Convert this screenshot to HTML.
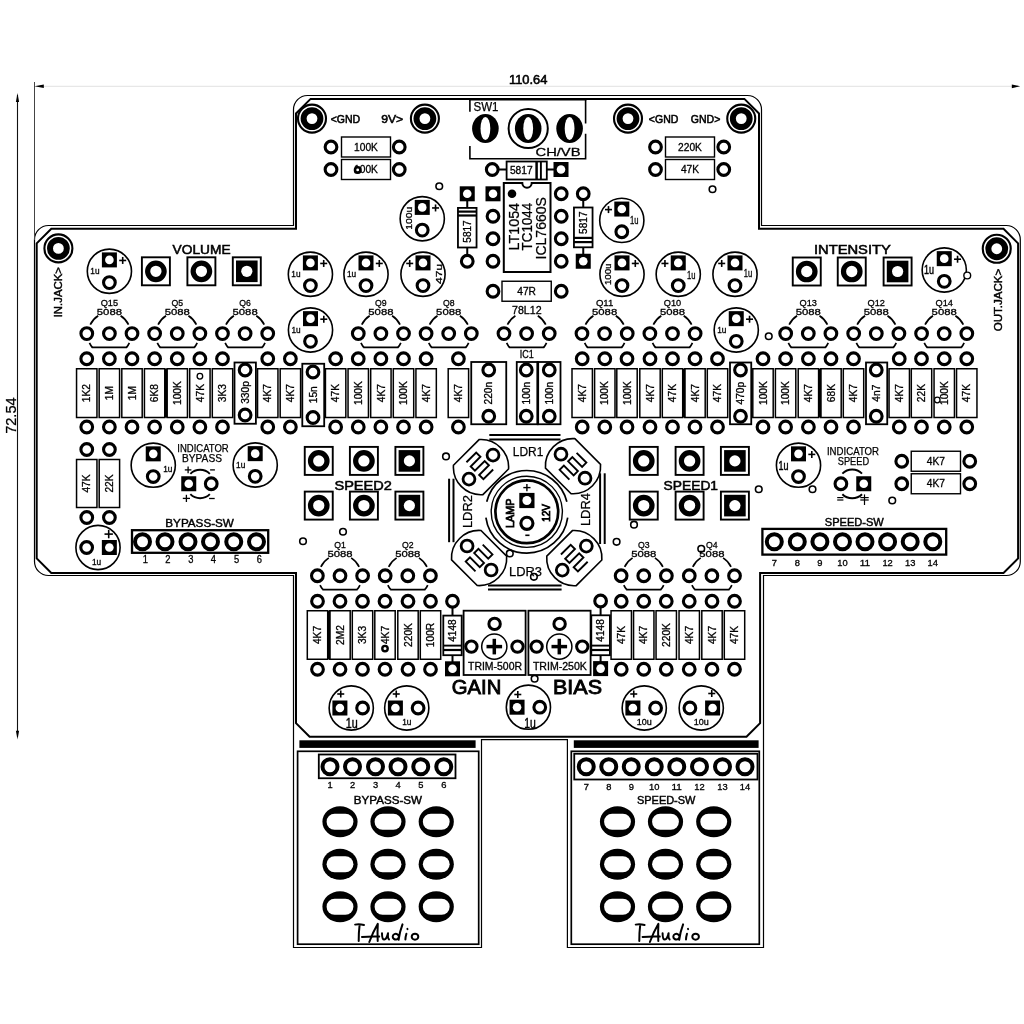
<!DOCTYPE html>
<html><head><meta charset="utf-8"><title>PCB</title>
<style>html,body{margin:0;padding:0;background:#fff}svg{display:block;will-change:transform}text{font-family:"Liberation Sans", sans-serif;fill:#000}</style>
</head><body>
<svg width="1024" height="1024" viewBox="0 0 1024 1024">
<rect width="1024" height="1024" fill="#fff"/>
<path d="M307.5 95.5 H747.5 A14 14 0 0 1 761.5 109.5 V225.5 H1006.3 A14 14 0 0 1 1020.3 239.5 V561.5 A14 14 0 0 1 1006.3 575.5 H763.5 V947.5 H567.4 V739.6 H481.5 V947.5 H293.5 V575.5 H48.5 A14 14 0 0 1 34.5 561.5 V239.5 A14 14 0 0 1 48.5 225.5 H293.5 V109.5 A14 14 0 0 1 307.5 95.5 Z" fill="none" stroke="#000" stroke-width="1.2"/>
<path d="M310.6 98.9 H744.4 L759 113.5 V228.8 H1003.5 L1018.1 243.4 V558.4 L1003.5 573 H760.1 V723.1999999999999 L746.5 736.8 H309.6 L296 723.1999999999999 V573 H51.300000000000004 L36.7 558.4 V243.4 L51.300000000000004 228.8 H296 V113.5 Z" fill="none" stroke="#000" stroke-width="2"/>
<line x1="43.00" y1="86.30" x2="1012.00" y2="86.30" stroke="#e2e2e2" stroke-width="1" stroke-linecap="butt"/>
<line x1="34.50" y1="82.00" x2="34.50" y2="240.00" stroke="#444" stroke-width="1" stroke-linecap="butt"/>
<path d="M34.4 86.3 L43.8 84.5 L43.8 88.1Z" fill="#000"/>
<path d="M1020.2 86.3 L1011.8 84.4 L1011.8 88.2Z" fill="#000"/>
<line x1="17.50" y1="95.00" x2="17.50" y2="737.00" stroke="#111" stroke-width="1.1" stroke-linecap="butt"/>
<path d="M17.5 93 L15.9 101.9 L19.1 101.9Z" fill="#000"/>
<path d="M17.5 739.6 L15.9 730.7 L19.1 730.7Z" fill="#000"/>
<text x="528.20" y="83.80" font-size="12.6" text-anchor="middle" textLength="38.50" lengthAdjust="spacingAndGlyphs" stroke="#000" stroke-width="0.55">110.64</text>
<text x="16.40" y="415.60" font-size="14.5" text-anchor="middle" textLength="36.50" lengthAdjust="spacingAndGlyphs" stroke="#000" stroke-width="0.25" transform="rotate(-90 16.40 415.60)">72.54</text>
<circle cx="312.00" cy="118.60" r="14" fill="#fff" stroke="#000" stroke-width="2.1"/>
<circle cx="312.00" cy="118.60" r="8.4" fill="#fff" stroke="#000" stroke-width="6"/>
<circle cx="424.90" cy="118.60" r="14" fill="#fff" stroke="#000" stroke-width="2.1"/>
<circle cx="424.90" cy="118.60" r="8.4" fill="#fff" stroke="#000" stroke-width="6"/>
<circle cx="628.00" cy="118.60" r="14" fill="#fff" stroke="#000" stroke-width="2.1"/>
<circle cx="628.00" cy="118.60" r="8.4" fill="#fff" stroke="#000" stroke-width="6"/>
<circle cx="741.25" cy="118.60" r="14" fill="#fff" stroke="#000" stroke-width="2.1"/>
<circle cx="741.25" cy="118.60" r="8.4" fill="#fff" stroke="#000" stroke-width="6"/>
<circle cx="58.40" cy="248.40" r="14" fill="#fff" stroke="#000" stroke-width="2.1"/>
<circle cx="58.40" cy="248.40" r="8.4" fill="#fff" stroke="#000" stroke-width="6"/>
<circle cx="996.75" cy="248.75" r="14" fill="#fff" stroke="#000" stroke-width="2.1"/>
<circle cx="996.75" cy="248.75" r="8.4" fill="#fff" stroke="#000" stroke-width="6"/>
<text x="345.40" y="122.80" font-size="11.2" text-anchor="middle" textLength="29.50" lengthAdjust="spacingAndGlyphs" stroke="#000" stroke-width="0.55">&lt;GND</text>
<text x="392.20" y="122.80" font-size="11.2" text-anchor="middle" textLength="22.00" lengthAdjust="spacingAndGlyphs" stroke="#000" stroke-width="0.55">9V&gt;</text>
<text x="663.60" y="122.80" font-size="11.2" text-anchor="middle" textLength="29.50" lengthAdjust="spacingAndGlyphs" stroke="#000" stroke-width="0.55">&lt;GND</text>
<text x="705.60" y="122.80" font-size="11.2" text-anchor="middle" textLength="29.50" lengthAdjust="spacingAndGlyphs" stroke="#000" stroke-width="0.55">GND&gt;</text>
<rect x="341.50" y="137.00" width="49.00" height="20.00" fill="#fff" stroke="#000" stroke-width="1.4"/>
<text x="366.00" y="150.70" font-size="10.2" text-anchor="middle" stroke="#000" stroke-width="0.3">100K</text>
<circle cx="331.00" cy="147.00" r="5.85" fill="#fff" stroke="#000" stroke-width="3.10"/>
<circle cx="399.25" cy="147.00" r="5.85" fill="#fff" stroke="#000" stroke-width="3.10"/>
<rect x="341.50" y="159.50" width="49.00" height="20.00" fill="#fff" stroke="#000" stroke-width="1.4"/>
<text x="366.00" y="173.20" font-size="10.2" text-anchor="middle" stroke="#000" stroke-width="0.3">100K</text>
<circle cx="331.00" cy="169.50" r="5.85" fill="#fff" stroke="#000" stroke-width="3.10"/>
<circle cx="399.25" cy="169.50" r="5.85" fill="#fff" stroke="#000" stroke-width="3.10"/>
<circle cx="357.70" cy="169.90" r="2.70" fill="#fff" stroke="#000" stroke-width="2.6"/>
<rect x="665.50" y="137.00" width="49.00" height="20.00" fill="#fff" stroke="#000" stroke-width="1.4"/>
<text x="690.00" y="150.70" font-size="10.2" text-anchor="middle" stroke="#000" stroke-width="0.3">220K</text>
<circle cx="655.50" cy="147.00" r="5.85" fill="#fff" stroke="#000" stroke-width="3.10"/>
<circle cx="723.75" cy="147.00" r="5.85" fill="#fff" stroke="#000" stroke-width="3.10"/>
<rect x="665.50" y="159.50" width="49.00" height="20.00" fill="#fff" stroke="#000" stroke-width="1.4"/>
<text x="690.00" y="173.20" font-size="10.2" text-anchor="middle" stroke="#000" stroke-width="0.3">47K</text>
<circle cx="655.50" cy="169.50" r="5.85" fill="#fff" stroke="#000" stroke-width="3.10"/>
<circle cx="723.75" cy="169.50" r="5.85" fill="#fff" stroke="#000" stroke-width="3.10"/>
<circle cx="439.25" cy="186.25" r="3.30" fill="#fff" stroke="#000" stroke-width="1.6"/>
<circle cx="712.50" cy="189.25" r="3.30" fill="#fff" stroke="#000" stroke-width="1.6"/>
<path d="M469.9 98.6 V111.8 M469.9 146 V158.7 H585.6 V133.7 M585.6 123.5 V98.6" fill="none" stroke="#000" stroke-width="1.6"/>
<line x1="469.10" y1="99.30" x2="586.40" y2="99.30" stroke="#000" stroke-width="2.6" stroke-linecap="butt"/>
<ellipse cx="485.4" cy="128.5" rx="13.3" ry="14.6" fill="#000"/>
<ellipse cx="485.4" cy="128.5" rx="4.9" ry="11.6" fill="#fff"/>
<ellipse cx="528.2" cy="128.5" rx="13.3" ry="14.6" fill="#000"/>
<ellipse cx="528.2" cy="128.5" rx="4.9" ry="11.6" fill="#fff"/>
<ellipse cx="569.6" cy="128.5" rx="13.3" ry="14.6" fill="#000"/>
<ellipse cx="569.6" cy="128.5" rx="4.9" ry="11.6" fill="#fff"/>
<circle cx="528.2" cy="128.5" r="19.6" fill="none" stroke="#000" stroke-width="2"/>
<text x="473.50" y="111.00" font-size="12.8" text-anchor="start" textLength="25.00" lengthAdjust="spacingAndGlyphs" stroke="#000" stroke-width="0.25">SW1</text>
<text x="535.50" y="155.80" font-size="11.4" text-anchor="start" textLength="45.00" lengthAdjust="spacingAndGlyphs" stroke="#000" stroke-width="0.3">CH/VB</text>
<line x1="492.25" y1="169.50" x2="561.00" y2="169.50" stroke="#000" stroke-width="2" stroke-linecap="butt"/>
<rect x="506.60" y="161.50" width="40.20" height="18.00" fill="#fff" stroke="#000" stroke-width="1.8"/>
<line x1="536.60" y1="161.50" x2="536.60" y2="179.50" stroke="#000" stroke-width="2.5" stroke-linecap="butt"/>
<line x1="540.90" y1="161.50" x2="540.90" y2="179.50" stroke="#000" stroke-width="1.9" stroke-linecap="butt"/>
<text x="521.30" y="174.10" font-size="10" text-anchor="middle" textLength="22.80" lengthAdjust="spacingAndGlyphs" stroke="#000" stroke-width="0.3">5817</text>
<circle cx="492.25" cy="169.50" r="5.85" fill="#fff" stroke="#000" stroke-width="3.10"/>
<rect x="553.50" y="162.00" width="15.00" height="15.00" fill="#000"/>
<circle cx="561.00" cy="169.50" r="4.30" fill="#fff"/>
<line x1="467.25" y1="261.25" x2="467.25" y2="193.80" stroke="#000" stroke-width="2" stroke-linecap="butt"/>
<rect x="457.95" y="207.90" width="18.60" height="39.60" fill="#fff" stroke="#000" stroke-width="1.8"/>
<line x1="457.95" y1="211.60" x2="476.55" y2="211.60" stroke="#000" stroke-width="2.2" stroke-linecap="butt"/>
<line x1="457.95" y1="215.50" x2="476.55" y2="215.50" stroke="#000" stroke-width="2.2" stroke-linecap="butt"/>
<text x="470.85" y="231.50" font-size="10" text-anchor="middle" textLength="22.40" lengthAdjust="spacingAndGlyphs" stroke="#000" stroke-width="0.3" transform="rotate(-90 470.85 231.50)">5817</text>
<circle cx="467.25" cy="261.25" r="5.85" fill="#fff" stroke="#000" stroke-width="3.10"/>
<rect x="459.75" y="186.30" width="15.00" height="15.00" fill="#000"/>
<circle cx="467.25" cy="193.80" r="4.30" fill="#fff"/>
<line x1="583.25" y1="193.75" x2="583.25" y2="261.25" stroke="#000" stroke-width="2" stroke-linecap="butt"/>
<rect x="573.95" y="207.50" width="18.60" height="39.80" fill="#fff" stroke="#000" stroke-width="1.8"/>
<line x1="573.95" y1="237.90" x2="592.55" y2="237.90" stroke="#000" stroke-width="2.2" stroke-linecap="butt"/>
<line x1="573.95" y1="242.10" x2="592.55" y2="242.10" stroke="#000" stroke-width="2.2" stroke-linecap="butt"/>
<text x="586.85" y="222.70" font-size="10" text-anchor="middle" textLength="22.40" lengthAdjust="spacingAndGlyphs" stroke="#000" stroke-width="0.3" transform="rotate(-90 586.85 222.70)">5817</text>
<circle cx="583.25" cy="193.75" r="5.85" fill="#fff" stroke="#000" stroke-width="3.10"/>
<rect x="575.75" y="253.75" width="15.00" height="15.00" fill="#000"/>
<circle cx="583.25" cy="261.25" r="4.30" fill="#fff"/>
<path d="M503.8 183 H522.3 A4.7 4.7 0 0 0 531.7 183 H550.5 V272 H503.8Z" fill="#fff" stroke="#000" stroke-width="2"/>
<circle cx="512" cy="193.8" r="4.3" fill="#000"/>
<rect x="485.50" y="186.30" width="15.00" height="15.00" fill="#000"/>
<circle cx="493.00" cy="193.80" r="4.30" fill="#fff"/>
<circle cx="493.00" cy="216.25" r="5.85" fill="#fff" stroke="#000" stroke-width="3.10"/>
<circle cx="493.00" cy="238.75" r="5.85" fill="#fff" stroke="#000" stroke-width="3.10"/>
<circle cx="493.00" cy="261.25" r="5.85" fill="#fff" stroke="#000" stroke-width="3.10"/>
<circle cx="561.25" cy="193.75" r="5.85" fill="#fff" stroke="#000" stroke-width="3.10"/>
<circle cx="561.25" cy="216.25" r="5.85" fill="#fff" stroke="#000" stroke-width="3.10"/>
<circle cx="561.25" cy="238.75" r="5.85" fill="#fff" stroke="#000" stroke-width="3.10"/>
<circle cx="561.25" cy="261.25" r="5.85" fill="#fff" stroke="#000" stroke-width="3.10"/>
<text x="519.20" y="250.40" font-size="14.6" text-anchor="start" textLength="47.50" lengthAdjust="spacingAndGlyphs" stroke="#000" stroke-width="0.25" transform="rotate(-90 519.20 250.40)">LT1054</text>
<text x="531.80" y="250.40" font-size="14.6" text-anchor="start" textLength="47.50" lengthAdjust="spacingAndGlyphs" stroke="#000" stroke-width="0.25" transform="rotate(-90 531.80 250.40)">TC1044</text>
<text x="545.80" y="259.50" font-size="14.6" text-anchor="start" textLength="62.50" lengthAdjust="spacingAndGlyphs" stroke="#000" stroke-width="0.25" transform="rotate(-90 545.80 259.50)">ICL7660S</text>
<rect x="502.00" y="281.25" width="49.25" height="20.00" fill="#fff" stroke="#000" stroke-width="1.4"/>
<text x="526.62" y="294.95" font-size="10.2" text-anchor="middle" stroke="#000" stroke-width="0.3">47R</text>
<circle cx="493.00" cy="291.25" r="5.85" fill="#fff" stroke="#000" stroke-width="3.10"/>
<circle cx="561.25" cy="291.25" r="5.85" fill="#fff" stroke="#000" stroke-width="3.10"/>
<text x="526.80" y="313.80" font-size="10.2" text-anchor="middle" textLength="29.50" lengthAdjust="spacingAndGlyphs" stroke="#000" stroke-width="0.3">78L12</text>
<text x="526.80" y="357.80" font-size="10.2" text-anchor="middle" textLength="14.00" lengthAdjust="spacingAndGlyphs" stroke="#000" stroke-width="0.3">IC1</text>
<circle cx="109.40" cy="271.25" r="22.10" fill="#fff" stroke="#000" stroke-width="1.6"/>
<rect x="101.90" y="252.40" width="15.00" height="15.00" fill="#000"/>
<circle cx="109.40" cy="259.90" r="4.30" fill="#fff"/>
<circle cx="109.40" cy="282.60" r="5.85" fill="#fff" stroke="#000" stroke-width="3.10"/>
<line x1="119.20" y1="260.45" x2="126.20" y2="260.45" stroke="#000" stroke-width="1.6" stroke-linecap="butt"/>
<line x1="122.70" y1="256.95" x2="122.70" y2="263.95" stroke="#000" stroke-width="1.6" stroke-linecap="butt"/>
<text x="94.90" y="274.45" font-size="8.6" text-anchor="middle" textLength="9.20" lengthAdjust="spacingAndGlyphs" stroke="#000" stroke-width="0.3">1u</text>
<circle cx="310.40" cy="274.25" r="22.10" fill="#fff" stroke="#000" stroke-width="1.6"/>
<rect x="302.90" y="255.40" width="15.00" height="15.00" fill="#000"/>
<circle cx="310.40" cy="262.90" r="4.30" fill="#fff"/>
<circle cx="310.40" cy="285.60" r="5.85" fill="#fff" stroke="#000" stroke-width="3.10"/>
<line x1="320.20" y1="263.45" x2="327.20" y2="263.45" stroke="#000" stroke-width="1.6" stroke-linecap="butt"/>
<line x1="323.70" y1="259.95" x2="323.70" y2="266.95" stroke="#000" stroke-width="1.6" stroke-linecap="butt"/>
<text x="295.90" y="277.45" font-size="8.6" text-anchor="middle" textLength="9.20" lengthAdjust="spacingAndGlyphs" stroke="#000" stroke-width="0.3">1u</text>
<circle cx="366.00" cy="274.25" r="22.10" fill="#fff" stroke="#000" stroke-width="1.6"/>
<rect x="358.50" y="255.40" width="15.00" height="15.00" fill="#000"/>
<circle cx="366.00" cy="262.90" r="4.30" fill="#fff"/>
<circle cx="366.00" cy="285.60" r="5.85" fill="#fff" stroke="#000" stroke-width="3.10"/>
<line x1="375.80" y1="263.45" x2="382.80" y2="263.45" stroke="#000" stroke-width="1.6" stroke-linecap="butt"/>
<line x1="379.30" y1="259.95" x2="379.30" y2="266.95" stroke="#000" stroke-width="1.6" stroke-linecap="butt"/>
<text x="351.50" y="277.45" font-size="8.6" text-anchor="middle" textLength="9.20" lengthAdjust="spacingAndGlyphs" stroke="#000" stroke-width="0.3">1u</text>
<circle cx="423.00" cy="274.25" r="22.10" fill="#fff" stroke="#000" stroke-width="1.6"/>
<rect x="415.50" y="255.40" width="15.00" height="15.00" fill="#000"/>
<circle cx="423.00" cy="262.90" r="4.30" fill="#fff"/>
<circle cx="423.00" cy="285.60" r="5.85" fill="#fff" stroke="#000" stroke-width="3.10"/>
<line x1="406.20" y1="263.45" x2="413.20" y2="263.45" stroke="#000" stroke-width="1.6" stroke-linecap="butt"/>
<line x1="409.70" y1="259.95" x2="409.70" y2="266.95" stroke="#000" stroke-width="1.6" stroke-linecap="butt"/>
<text x="442.00" y="273.95" font-size="9.6" text-anchor="middle" textLength="20.00" lengthAdjust="spacingAndGlyphs" stroke="#000" stroke-width="0.3" transform="rotate(-90 442.00 273.95)">47u</text>
<circle cx="422.25" cy="218.75" r="22.10" fill="#fff" stroke="#000" stroke-width="1.6"/>
<rect x="414.75" y="199.90" width="15.00" height="15.00" fill="#000"/>
<circle cx="422.25" cy="207.40" r="4.30" fill="#fff"/>
<circle cx="422.25" cy="230.10" r="5.85" fill="#fff" stroke="#000" stroke-width="3.10"/>
<line x1="432.05" y1="207.95" x2="439.05" y2="207.95" stroke="#000" stroke-width="1.6" stroke-linecap="butt"/>
<line x1="435.55" y1="204.45" x2="435.55" y2="211.45" stroke="#000" stroke-width="1.6" stroke-linecap="butt"/>
<text x="412.05" y="218.25" font-size="9.6" text-anchor="middle" textLength="23.00" lengthAdjust="spacingAndGlyphs" stroke="#000" stroke-width="0.3" transform="rotate(-90 412.05 218.25)">100u</text>
<circle cx="621.80" cy="220.40" r="22.10" fill="#fff" stroke="#000" stroke-width="1.6"/>
<rect x="614.30" y="201.55" width="15.00" height="15.00" fill="#000"/>
<circle cx="621.80" cy="209.05" r="4.30" fill="#fff"/>
<circle cx="621.80" cy="231.75" r="5.85" fill="#fff" stroke="#000" stroke-width="3.10"/>
<line x1="605.00" y1="209.60" x2="612.00" y2="209.60" stroke="#000" stroke-width="1.6" stroke-linecap="butt"/>
<line x1="608.50" y1="206.10" x2="608.50" y2="213.10" stroke="#000" stroke-width="1.6" stroke-linecap="butt"/>
<text x="634.20" y="224.00" font-size="10.5" text-anchor="middle" textLength="8.50" lengthAdjust="spacingAndGlyphs" stroke="#000" stroke-width="0.3">1u</text>
<circle cx="622.00" cy="274.25" r="22.10" fill="#fff" stroke="#000" stroke-width="1.6"/>
<rect x="614.50" y="255.40" width="15.00" height="15.00" fill="#000"/>
<circle cx="622.00" cy="262.90" r="4.30" fill="#fff"/>
<circle cx="622.00" cy="285.60" r="5.85" fill="#fff" stroke="#000" stroke-width="3.10"/>
<line x1="631.80" y1="263.45" x2="638.80" y2="263.45" stroke="#000" stroke-width="1.6" stroke-linecap="butt"/>
<line x1="635.30" y1="259.95" x2="635.30" y2="266.95" stroke="#000" stroke-width="1.6" stroke-linecap="butt"/>
<text x="611.00" y="274.25" font-size="9.6" text-anchor="middle" textLength="21.50" lengthAdjust="spacingAndGlyphs" stroke="#000" stroke-width="0.3" transform="rotate(-90 611.00 274.25)">100u</text>
<circle cx="678.25" cy="274.25" r="22.10" fill="#fff" stroke="#000" stroke-width="1.6"/>
<rect x="670.75" y="255.40" width="15.00" height="15.00" fill="#000"/>
<circle cx="678.25" cy="262.90" r="4.30" fill="#fff"/>
<circle cx="678.25" cy="285.60" r="5.85" fill="#fff" stroke="#000" stroke-width="3.10"/>
<line x1="661.45" y1="263.45" x2="668.45" y2="263.45" stroke="#000" stroke-width="1.6" stroke-linecap="butt"/>
<line x1="664.95" y1="259.95" x2="664.95" y2="266.95" stroke="#000" stroke-width="1.6" stroke-linecap="butt"/>
<text x="691.15" y="278.65" font-size="10.5" text-anchor="middle" textLength="8.50" lengthAdjust="spacingAndGlyphs" stroke="#000" stroke-width="0.3">1u</text>
<circle cx="735.00" cy="274.25" r="22.10" fill="#fff" stroke="#000" stroke-width="1.6"/>
<rect x="727.50" y="255.40" width="15.00" height="15.00" fill="#000"/>
<circle cx="735.00" cy="262.90" r="4.30" fill="#fff"/>
<circle cx="735.00" cy="285.60" r="5.85" fill="#fff" stroke="#000" stroke-width="3.10"/>
<line x1="718.20" y1="263.45" x2="725.20" y2="263.45" stroke="#000" stroke-width="1.6" stroke-linecap="butt"/>
<line x1="721.70" y1="259.95" x2="721.70" y2="266.95" stroke="#000" stroke-width="1.6" stroke-linecap="butt"/>
<text x="748.00" y="277.45" font-size="10.5" text-anchor="middle" textLength="8.50" lengthAdjust="spacingAndGlyphs" stroke="#000" stroke-width="0.3">1u</text>
<circle cx="944.25" cy="270.00" r="22.10" fill="#fff" stroke="#000" stroke-width="1.6"/>
<rect x="936.75" y="251.15" width="15.00" height="15.00" fill="#000"/>
<circle cx="944.25" cy="258.65" r="4.30" fill="#fff"/>
<circle cx="944.25" cy="281.35" r="5.85" fill="#fff" stroke="#000" stroke-width="3.10"/>
<line x1="954.05" y1="259.20" x2="961.05" y2="259.20" stroke="#000" stroke-width="1.6" stroke-linecap="butt"/>
<line x1="957.55" y1="255.70" x2="957.55" y2="262.70" stroke="#000" stroke-width="1.6" stroke-linecap="butt"/>
<text x="928.95" y="274.40" font-size="12" text-anchor="middle" textLength="10.00" lengthAdjust="spacingAndGlyphs" stroke="#000" stroke-width="0.45">1u</text>
<circle cx="967.25" cy="275.50" r="3.40" fill="#fff" stroke="#000" stroke-width="1.4"/>
<circle cx="310.50" cy="330.00" r="22.10" fill="#fff" stroke="#000" stroke-width="1.6"/>
<rect x="303.00" y="311.15" width="15.00" height="15.00" fill="#000"/>
<circle cx="310.50" cy="318.65" r="4.30" fill="#fff"/>
<circle cx="310.50" cy="341.35" r="5.85" fill="#fff" stroke="#000" stroke-width="3.10"/>
<line x1="320.30" y1="319.20" x2="327.30" y2="319.20" stroke="#000" stroke-width="1.6" stroke-linecap="butt"/>
<line x1="323.80" y1="315.70" x2="323.80" y2="322.70" stroke="#000" stroke-width="1.6" stroke-linecap="butt"/>
<text x="296.00" y="333.20" font-size="8.6" text-anchor="middle" textLength="9.20" lengthAdjust="spacingAndGlyphs" stroke="#000" stroke-width="0.3">1u</text>
<circle cx="736.25" cy="330.00" r="22.10" fill="#fff" stroke="#000" stroke-width="1.6"/>
<rect x="728.75" y="311.15" width="15.00" height="15.00" fill="#000"/>
<circle cx="736.25" cy="318.65" r="4.30" fill="#fff"/>
<circle cx="736.25" cy="341.35" r="5.85" fill="#fff" stroke="#000" stroke-width="3.10"/>
<line x1="746.05" y1="319.20" x2="753.05" y2="319.20" stroke="#000" stroke-width="1.6" stroke-linecap="butt"/>
<line x1="749.55" y1="315.70" x2="749.55" y2="322.70" stroke="#000" stroke-width="1.6" stroke-linecap="butt"/>
<text x="721.75" y="333.20" font-size="8.6" text-anchor="middle" textLength="9.20" lengthAdjust="spacingAndGlyphs" stroke="#000" stroke-width="0.3">1u</text>
<text x="201.60" y="253.50" font-size="13.6" text-anchor="middle" textLength="58.00" lengthAdjust="spacingAndGlyphs" stroke="#000" stroke-width="0.55">VOLUME</text>
<rect x="141.90" y="257.30" width="28.00" height="28.00" fill="#fff" stroke="#000" stroke-width="1.9"/>
<circle cx="155.90" cy="271.30" r="8.25" fill="#fff" stroke="#000" stroke-width="5.2"/>
<rect x="187.40" y="257.30" width="28.00" height="28.00" fill="#fff" stroke="#000" stroke-width="1.9"/>
<circle cx="201.40" cy="271.30" r="8.25" fill="#fff" stroke="#000" stroke-width="5.2"/>
<rect x="232.80" y="257.30" width="28.00" height="28.00" fill="#fff" stroke="#000" stroke-width="1.9"/>
<rect x="236.00" y="260.50" width="21.6" height="21.6" fill="#000"/>
<circle cx="246.80" cy="271.30" r="5.6" fill="#fff"/>
<text x="852.40" y="253.70" font-size="13.6" text-anchor="middle" textLength="77.00" lengthAdjust="spacingAndGlyphs" stroke="#000" stroke-width="0.55">INTENSITY</text>
<rect x="792.75" y="257.50" width="28.00" height="28.00" fill="#fff" stroke="#000" stroke-width="1.9"/>
<circle cx="806.75" cy="271.50" r="8.25" fill="#fff" stroke="#000" stroke-width="5.2"/>
<rect x="837.75" y="257.50" width="28.00" height="28.00" fill="#fff" stroke="#000" stroke-width="1.9"/>
<circle cx="851.75" cy="271.50" r="8.25" fill="#fff" stroke="#000" stroke-width="5.2"/>
<rect x="883.60" y="257.50" width="28.00" height="28.00" fill="#fff" stroke="#000" stroke-width="1.9"/>
<rect x="886.80" y="260.70" width="21.6" height="21.6" fill="#000"/>
<circle cx="897.60" cy="271.50" r="5.6" fill="#fff"/>
<text x="363.20" y="489.60" font-size="13.6" text-anchor="middle" textLength="57.50" lengthAdjust="spacingAndGlyphs" stroke="#000" stroke-width="0.55">SPEED2</text>
<text x="690.80" y="489.60" font-size="13.6" text-anchor="middle" textLength="54.50" lengthAdjust="spacingAndGlyphs" stroke="#000" stroke-width="0.55">SPEED1</text>
<rect x="304.75" y="446.90" width="28.00" height="28.00" fill="#fff" stroke="#000" stroke-width="1.9"/>
<circle cx="318.75" cy="460.90" r="8.25" fill="#fff" stroke="#000" stroke-width="5.2"/>
<rect x="349.90" y="446.90" width="28.00" height="28.00" fill="#fff" stroke="#000" stroke-width="1.9"/>
<circle cx="363.90" cy="460.90" r="8.25" fill="#fff" stroke="#000" stroke-width="5.2"/>
<rect x="395.40" y="446.90" width="28.00" height="28.00" fill="#fff" stroke="#000" stroke-width="1.9"/>
<rect x="398.60" y="450.10" width="21.6" height="21.6" fill="#000"/>
<circle cx="409.40" cy="460.90" r="5.6" fill="#fff"/>
<rect x="629.75" y="446.90" width="28.00" height="28.00" fill="#fff" stroke="#000" stroke-width="1.9"/>
<circle cx="643.75" cy="460.90" r="8.25" fill="#fff" stroke="#000" stroke-width="5.2"/>
<rect x="675.60" y="446.90" width="28.00" height="28.00" fill="#fff" stroke="#000" stroke-width="1.9"/>
<circle cx="689.60" cy="460.90" r="8.25" fill="#fff" stroke="#000" stroke-width="5.2"/>
<rect x="720.90" y="446.90" width="28.00" height="28.00" fill="#fff" stroke="#000" stroke-width="1.9"/>
<rect x="724.10" y="450.10" width="21.6" height="21.6" fill="#000"/>
<circle cx="734.90" cy="460.90" r="5.6" fill="#fff"/>
<rect x="304.75" y="491.60" width="28.00" height="28.00" fill="#fff" stroke="#000" stroke-width="1.9"/>
<circle cx="318.75" cy="505.60" r="8.25" fill="#fff" stroke="#000" stroke-width="5.2"/>
<rect x="349.90" y="491.60" width="28.00" height="28.00" fill="#fff" stroke="#000" stroke-width="1.9"/>
<circle cx="363.90" cy="505.60" r="8.25" fill="#fff" stroke="#000" stroke-width="5.2"/>
<rect x="395.40" y="491.60" width="28.00" height="28.00" fill="#fff" stroke="#000" stroke-width="1.9"/>
<rect x="398.60" y="494.80" width="21.6" height="21.6" fill="#000"/>
<circle cx="409.40" cy="505.60" r="5.6" fill="#fff"/>
<rect x="629.75" y="491.60" width="28.00" height="28.00" fill="#fff" stroke="#000" stroke-width="1.9"/>
<circle cx="643.75" cy="505.60" r="8.25" fill="#fff" stroke="#000" stroke-width="5.2"/>
<rect x="675.60" y="491.60" width="28.00" height="28.00" fill="#fff" stroke="#000" stroke-width="1.9"/>
<circle cx="689.60" cy="505.60" r="8.25" fill="#fff" stroke="#000" stroke-width="5.2"/>
<rect x="720.90" y="491.60" width="28.00" height="28.00" fill="#fff" stroke="#000" stroke-width="1.9"/>
<rect x="724.10" y="494.80" width="21.6" height="21.6" fill="#000"/>
<circle cx="734.90" cy="505.60" r="5.6" fill="#fff"/>
<text x="62.00" y="292.20" font-size="10.6" text-anchor="middle" textLength="50.20" lengthAdjust="spacingAndGlyphs" stroke="#000" stroke-width="0.42" transform="rotate(-90 62.00 292.20)">IN.JACK&gt;</text>
<text x="1002.00" y="300.00" font-size="10.6" text-anchor="middle" textLength="62.50" lengthAdjust="spacingAndGlyphs" stroke="#000" stroke-width="0.42" transform="rotate(-90 1002.00 300.00)">OUT.JACK&gt;</text>
<path d="M90.28 324.68A21.10 21.10 0 0 1 98.22 315.71" fill="none" stroke="#000" stroke-width="1.7"/>
<path d="M120.58 315.71A21.10 21.10 0 0 1 128.52 324.68" fill="none" stroke="#000" stroke-width="1.7"/>
<path d="M129.34 342.90A22.00 22.00 0 0 1 126.53 347.40" fill="none" stroke="#000" stroke-width="1.7"/>
<path d="M92.27 347.40A22.00 22.00 0 0 1 89.46 342.90" fill="none" stroke="#000" stroke-width="1.7"/>
<line x1="91.77" y1="347.40" x2="127.03" y2="347.40" stroke="#000" stroke-width="1.8" stroke-linecap="butt"/>
<circle cx="86.78" cy="333.60" r="5.85" fill="#fff" stroke="#000" stroke-width="3.10"/>
<circle cx="109.40" cy="333.60" r="5.85" fill="#fff" stroke="#000" stroke-width="3.10"/>
<circle cx="132.02" cy="333.60" r="5.85" fill="#fff" stroke="#000" stroke-width="3.10"/>
<text x="109.40" y="306.00" font-size="9.9" text-anchor="middle" textLength="17.40" lengthAdjust="spacingAndGlyphs" stroke="#000" stroke-width="0.3">Q15</text>
<text x="109.40" y="315.00" font-size="9.7" text-anchor="middle" textLength="25.20" lengthAdjust="spacingAndGlyphs" stroke="#000" stroke-width="0.3">5088</text>
<path d="M158.13 324.68A21.10 21.10 0 0 1 166.07 315.71" fill="none" stroke="#000" stroke-width="1.7"/>
<path d="M188.43 315.71A21.10 21.10 0 0 1 196.37 324.68" fill="none" stroke="#000" stroke-width="1.7"/>
<path d="M197.19 342.90A22.00 22.00 0 0 1 194.38 347.40" fill="none" stroke="#000" stroke-width="1.7"/>
<path d="M160.12 347.40A22.00 22.00 0 0 1 157.31 342.90" fill="none" stroke="#000" stroke-width="1.7"/>
<line x1="159.62" y1="347.40" x2="194.88" y2="347.40" stroke="#000" stroke-width="1.8" stroke-linecap="butt"/>
<circle cx="154.63" cy="333.60" r="5.85" fill="#fff" stroke="#000" stroke-width="3.10"/>
<circle cx="177.25" cy="333.60" r="5.85" fill="#fff" stroke="#000" stroke-width="3.10"/>
<circle cx="199.87" cy="333.60" r="5.85" fill="#fff" stroke="#000" stroke-width="3.10"/>
<text x="177.25" y="306.00" font-size="9.9" text-anchor="middle" textLength="11.60" lengthAdjust="spacingAndGlyphs" stroke="#000" stroke-width="0.3">Q5</text>
<text x="177.25" y="315.00" font-size="9.7" text-anchor="middle" textLength="25.20" lengthAdjust="spacingAndGlyphs" stroke="#000" stroke-width="0.3">5088</text>
<path d="M225.98 324.68A21.10 21.10 0 0 1 233.92 315.71" fill="none" stroke="#000" stroke-width="1.7"/>
<path d="M256.28 315.71A21.10 21.10 0 0 1 264.22 324.68" fill="none" stroke="#000" stroke-width="1.7"/>
<path d="M265.04 342.90A22.00 22.00 0 0 1 262.23 347.40" fill="none" stroke="#000" stroke-width="1.7"/>
<path d="M227.97 347.40A22.00 22.00 0 0 1 225.16 342.90" fill="none" stroke="#000" stroke-width="1.7"/>
<line x1="227.47" y1="347.40" x2="262.73" y2="347.40" stroke="#000" stroke-width="1.8" stroke-linecap="butt"/>
<circle cx="222.48" cy="333.60" r="5.85" fill="#fff" stroke="#000" stroke-width="3.10"/>
<circle cx="245.10" cy="333.60" r="5.85" fill="#fff" stroke="#000" stroke-width="3.10"/>
<circle cx="267.72" cy="333.60" r="5.85" fill="#fff" stroke="#000" stroke-width="3.10"/>
<text x="245.10" y="306.00" font-size="9.9" text-anchor="middle" textLength="11.60" lengthAdjust="spacingAndGlyphs" stroke="#000" stroke-width="0.3">Q6</text>
<text x="245.10" y="315.00" font-size="9.7" text-anchor="middle" textLength="25.20" lengthAdjust="spacingAndGlyphs" stroke="#000" stroke-width="0.3">5088</text>
<path d="M361.78 324.68A21.10 21.10 0 0 1 369.72 315.71" fill="none" stroke="#000" stroke-width="1.7"/>
<path d="M392.08 315.71A21.10 21.10 0 0 1 400.02 324.68" fill="none" stroke="#000" stroke-width="1.7"/>
<path d="M400.84 342.90A22.00 22.00 0 0 1 398.03 347.40" fill="none" stroke="#000" stroke-width="1.7"/>
<path d="M363.77 347.40A22.00 22.00 0 0 1 360.96 342.90" fill="none" stroke="#000" stroke-width="1.7"/>
<line x1="363.27" y1="347.40" x2="398.53" y2="347.40" stroke="#000" stroke-width="1.8" stroke-linecap="butt"/>
<circle cx="358.28" cy="333.60" r="5.85" fill="#fff" stroke="#000" stroke-width="3.10"/>
<circle cx="380.90" cy="333.60" r="5.85" fill="#fff" stroke="#000" stroke-width="3.10"/>
<circle cx="403.52" cy="333.60" r="5.85" fill="#fff" stroke="#000" stroke-width="3.10"/>
<text x="380.90" y="306.00" font-size="9.9" text-anchor="middle" textLength="11.60" lengthAdjust="spacingAndGlyphs" stroke="#000" stroke-width="0.3">Q9</text>
<text x="380.90" y="315.00" font-size="9.7" text-anchor="middle" textLength="25.20" lengthAdjust="spacingAndGlyphs" stroke="#000" stroke-width="0.3">5088</text>
<path d="M429.58 324.68A21.10 21.10 0 0 1 437.52 315.71" fill="none" stroke="#000" stroke-width="1.7"/>
<path d="M459.88 315.71A21.10 21.10 0 0 1 467.82 324.68" fill="none" stroke="#000" stroke-width="1.7"/>
<path d="M468.64 342.90A22.00 22.00 0 0 1 465.83 347.40" fill="none" stroke="#000" stroke-width="1.7"/>
<path d="M431.57 347.40A22.00 22.00 0 0 1 428.76 342.90" fill="none" stroke="#000" stroke-width="1.7"/>
<line x1="431.07" y1="347.40" x2="466.33" y2="347.40" stroke="#000" stroke-width="1.8" stroke-linecap="butt"/>
<circle cx="426.08" cy="333.60" r="5.85" fill="#fff" stroke="#000" stroke-width="3.10"/>
<circle cx="448.70" cy="333.60" r="5.85" fill="#fff" stroke="#000" stroke-width="3.10"/>
<circle cx="471.32" cy="333.60" r="5.85" fill="#fff" stroke="#000" stroke-width="3.10"/>
<text x="448.70" y="306.00" font-size="9.9" text-anchor="middle" textLength="11.60" lengthAdjust="spacingAndGlyphs" stroke="#000" stroke-width="0.3">Q8</text>
<text x="448.70" y="315.00" font-size="9.7" text-anchor="middle" textLength="25.20" lengthAdjust="spacingAndGlyphs" stroke="#000" stroke-width="0.3">5088</text>
<path d="M585.48 324.68A21.10 21.10 0 0 1 593.42 315.71" fill="none" stroke="#000" stroke-width="1.7"/>
<path d="M615.78 315.71A21.10 21.10 0 0 1 623.72 324.68" fill="none" stroke="#000" stroke-width="1.7"/>
<path d="M624.54 342.90A22.00 22.00 0 0 1 621.73 347.40" fill="none" stroke="#000" stroke-width="1.7"/>
<path d="M587.47 347.40A22.00 22.00 0 0 1 584.66 342.90" fill="none" stroke="#000" stroke-width="1.7"/>
<line x1="586.97" y1="347.40" x2="622.23" y2="347.40" stroke="#000" stroke-width="1.8" stroke-linecap="butt"/>
<circle cx="581.98" cy="333.60" r="5.85" fill="#fff" stroke="#000" stroke-width="3.10"/>
<circle cx="604.60" cy="333.60" r="5.85" fill="#fff" stroke="#000" stroke-width="3.10"/>
<circle cx="627.22" cy="333.60" r="5.85" fill="#fff" stroke="#000" stroke-width="3.10"/>
<text x="604.60" y="306.00" font-size="9.9" text-anchor="middle" textLength="17.40" lengthAdjust="spacingAndGlyphs" stroke="#000" stroke-width="0.3">Q11</text>
<text x="604.60" y="315.00" font-size="9.7" text-anchor="middle" textLength="25.20" lengthAdjust="spacingAndGlyphs" stroke="#000" stroke-width="0.3">5088</text>
<path d="M653.38 324.68A21.10 21.10 0 0 1 661.32 315.71" fill="none" stroke="#000" stroke-width="1.7"/>
<path d="M683.68 315.71A21.10 21.10 0 0 1 691.62 324.68" fill="none" stroke="#000" stroke-width="1.7"/>
<path d="M692.44 342.90A22.00 22.00 0 0 1 689.63 347.40" fill="none" stroke="#000" stroke-width="1.7"/>
<path d="M655.37 347.40A22.00 22.00 0 0 1 652.56 342.90" fill="none" stroke="#000" stroke-width="1.7"/>
<line x1="654.87" y1="347.40" x2="690.13" y2="347.40" stroke="#000" stroke-width="1.8" stroke-linecap="butt"/>
<circle cx="649.88" cy="333.60" r="5.85" fill="#fff" stroke="#000" stroke-width="3.10"/>
<circle cx="672.50" cy="333.60" r="5.85" fill="#fff" stroke="#000" stroke-width="3.10"/>
<circle cx="695.12" cy="333.60" r="5.85" fill="#fff" stroke="#000" stroke-width="3.10"/>
<text x="672.50" y="306.00" font-size="9.9" text-anchor="middle" textLength="17.40" lengthAdjust="spacingAndGlyphs" stroke="#000" stroke-width="0.3">Q10</text>
<text x="672.50" y="315.00" font-size="9.7" text-anchor="middle" textLength="25.20" lengthAdjust="spacingAndGlyphs" stroke="#000" stroke-width="0.3">5088</text>
<path d="M789.18 324.68A21.10 21.10 0 0 1 797.12 315.71" fill="none" stroke="#000" stroke-width="1.7"/>
<path d="M819.48 315.71A21.10 21.10 0 0 1 827.42 324.68" fill="none" stroke="#000" stroke-width="1.7"/>
<path d="M828.24 342.90A22.00 22.00 0 0 1 825.43 347.40" fill="none" stroke="#000" stroke-width="1.7"/>
<path d="M791.17 347.40A22.00 22.00 0 0 1 788.36 342.90" fill="none" stroke="#000" stroke-width="1.7"/>
<line x1="790.67" y1="347.40" x2="825.93" y2="347.40" stroke="#000" stroke-width="1.8" stroke-linecap="butt"/>
<circle cx="785.68" cy="333.60" r="5.85" fill="#fff" stroke="#000" stroke-width="3.10"/>
<circle cx="808.30" cy="333.60" r="5.85" fill="#fff" stroke="#000" stroke-width="3.10"/>
<circle cx="830.92" cy="333.60" r="5.85" fill="#fff" stroke="#000" stroke-width="3.10"/>
<text x="808.30" y="306.00" font-size="9.9" text-anchor="middle" textLength="17.40" lengthAdjust="spacingAndGlyphs" stroke="#000" stroke-width="0.3">Q13</text>
<text x="808.30" y="315.00" font-size="9.7" text-anchor="middle" textLength="25.20" lengthAdjust="spacingAndGlyphs" stroke="#000" stroke-width="0.3">5088</text>
<path d="M857.18 324.68A21.10 21.10 0 0 1 865.12 315.71" fill="none" stroke="#000" stroke-width="1.7"/>
<path d="M887.48 315.71A21.10 21.10 0 0 1 895.42 324.68" fill="none" stroke="#000" stroke-width="1.7"/>
<path d="M896.24 342.90A22.00 22.00 0 0 1 893.43 347.40" fill="none" stroke="#000" stroke-width="1.7"/>
<path d="M859.17 347.40A22.00 22.00 0 0 1 856.36 342.90" fill="none" stroke="#000" stroke-width="1.7"/>
<line x1="858.67" y1="347.40" x2="893.93" y2="347.40" stroke="#000" stroke-width="1.8" stroke-linecap="butt"/>
<circle cx="853.68" cy="333.60" r="5.85" fill="#fff" stroke="#000" stroke-width="3.10"/>
<circle cx="876.30" cy="333.60" r="5.85" fill="#fff" stroke="#000" stroke-width="3.10"/>
<circle cx="898.92" cy="333.60" r="5.85" fill="#fff" stroke="#000" stroke-width="3.10"/>
<text x="876.30" y="306.00" font-size="9.9" text-anchor="middle" textLength="17.40" lengthAdjust="spacingAndGlyphs" stroke="#000" stroke-width="0.3">Q12</text>
<text x="876.30" y="315.00" font-size="9.7" text-anchor="middle" textLength="25.20" lengthAdjust="spacingAndGlyphs" stroke="#000" stroke-width="0.3">5088</text>
<path d="M925.08 324.68A21.10 21.10 0 0 1 933.02 315.71" fill="none" stroke="#000" stroke-width="1.7"/>
<path d="M955.38 315.71A21.10 21.10 0 0 1 963.32 324.68" fill="none" stroke="#000" stroke-width="1.7"/>
<path d="M964.14 342.90A22.00 22.00 0 0 1 961.33 347.40" fill="none" stroke="#000" stroke-width="1.7"/>
<path d="M927.07 347.40A22.00 22.00 0 0 1 924.26 342.90" fill="none" stroke="#000" stroke-width="1.7"/>
<line x1="926.57" y1="347.40" x2="961.83" y2="347.40" stroke="#000" stroke-width="1.8" stroke-linecap="butt"/>
<circle cx="921.58" cy="333.60" r="5.85" fill="#fff" stroke="#000" stroke-width="3.10"/>
<circle cx="944.20" cy="333.60" r="5.85" fill="#fff" stroke="#000" stroke-width="3.10"/>
<circle cx="966.82" cy="333.60" r="5.85" fill="#fff" stroke="#000" stroke-width="3.10"/>
<text x="944.20" y="306.00" font-size="9.9" text-anchor="middle" textLength="17.40" lengthAdjust="spacingAndGlyphs" stroke="#000" stroke-width="0.3">Q14</text>
<text x="944.20" y="315.00" font-size="9.7" text-anchor="middle" textLength="25.20" lengthAdjust="spacingAndGlyphs" stroke="#000" stroke-width="0.3">5088</text>
<path d="M507.48 324.68A21.10 21.10 0 0 1 515.42 315.71" fill="none" stroke="#000" stroke-width="1.7"/>
<path d="M537.78 315.71A21.10 21.10 0 0 1 545.72 324.68" fill="none" stroke="#000" stroke-width="1.7"/>
<path d="M546.54 342.90A22.00 22.00 0 0 1 543.73 347.40" fill="none" stroke="#000" stroke-width="1.7"/>
<path d="M509.47 347.40A22.00 22.00 0 0 1 506.66 342.90" fill="none" stroke="#000" stroke-width="1.7"/>
<line x1="508.97" y1="347.40" x2="544.23" y2="347.40" stroke="#000" stroke-width="1.8" stroke-linecap="butt"/>
<circle cx="503.98" cy="333.60" r="5.85" fill="#fff" stroke="#000" stroke-width="3.10"/>
<circle cx="526.60" cy="333.60" r="5.85" fill="#fff" stroke="#000" stroke-width="3.10"/>
<circle cx="549.22" cy="333.60" r="5.85" fill="#fff" stroke="#000" stroke-width="3.10"/>
<rect x="76.55" y="368.75" width="20.40" height="48.75" fill="#fff" stroke="#000" stroke-width="1.5"/>
<text x="90.45" y="393.12" font-size="10.2" text-anchor="middle" stroke="#000" stroke-width="0.3" transform="rotate(-90 90.45 393.12)">1K2</text>
<circle cx="86.75" cy="358.75" r="5.85" fill="#fff" stroke="#000" stroke-width="3.10"/>
<circle cx="86.75" cy="427.00" r="5.85" fill="#fff" stroke="#000" stroke-width="3.10"/>
<rect x="99.17" y="368.75" width="20.40" height="48.75" fill="#fff" stroke="#000" stroke-width="1.5"/>
<text x="113.08" y="393.12" font-size="10.2" text-anchor="middle" stroke="#000" stroke-width="0.3" transform="rotate(-90 113.08 393.12)">1M</text>
<circle cx="109.38" cy="358.75" r="5.85" fill="#fff" stroke="#000" stroke-width="3.10"/>
<circle cx="109.38" cy="427.00" r="5.85" fill="#fff" stroke="#000" stroke-width="3.10"/>
<rect x="121.80" y="368.75" width="20.40" height="48.75" fill="#fff" stroke="#000" stroke-width="1.5"/>
<text x="135.70" y="393.12" font-size="10.2" text-anchor="middle" stroke="#000" stroke-width="0.3" transform="rotate(-90 135.70 393.12)">1M</text>
<circle cx="132.00" cy="358.75" r="5.85" fill="#fff" stroke="#000" stroke-width="3.10"/>
<circle cx="132.00" cy="427.00" r="5.85" fill="#fff" stroke="#000" stroke-width="3.10"/>
<rect x="144.43" y="368.75" width="20.40" height="48.75" fill="#fff" stroke="#000" stroke-width="1.5"/>
<text x="158.32" y="393.12" font-size="10.2" text-anchor="middle" stroke="#000" stroke-width="0.3" transform="rotate(-90 158.32 393.12)">6K8</text>
<circle cx="154.62" cy="358.75" r="5.85" fill="#fff" stroke="#000" stroke-width="3.10"/>
<circle cx="154.62" cy="427.00" r="5.85" fill="#fff" stroke="#000" stroke-width="3.10"/>
<rect x="167.05" y="368.75" width="20.40" height="48.75" fill="#fff" stroke="#000" stroke-width="1.5"/>
<text x="180.95" y="393.12" font-size="10.2" text-anchor="middle" stroke="#000" stroke-width="0.3" transform="rotate(-90 180.95 393.12)">100K</text>
<circle cx="177.25" cy="358.75" r="5.85" fill="#fff" stroke="#000" stroke-width="3.10"/>
<circle cx="177.25" cy="427.00" r="5.85" fill="#fff" stroke="#000" stroke-width="3.10"/>
<rect x="189.68" y="368.75" width="20.40" height="48.75" fill="#fff" stroke="#000" stroke-width="1.5"/>
<text x="203.57" y="393.12" font-size="10.2" text-anchor="middle" stroke="#000" stroke-width="0.3" transform="rotate(-90 203.57 393.12)">47K</text>
<circle cx="199.88" cy="358.75" r="5.85" fill="#fff" stroke="#000" stroke-width="3.10"/>
<circle cx="199.88" cy="427.00" r="5.85" fill="#fff" stroke="#000" stroke-width="3.10"/>
<rect x="212.30" y="368.75" width="20.40" height="48.75" fill="#fff" stroke="#000" stroke-width="1.5"/>
<text x="226.20" y="393.12" font-size="10.2" text-anchor="middle" stroke="#000" stroke-width="0.3" transform="rotate(-90 226.20 393.12)">3K3</text>
<circle cx="222.50" cy="358.75" r="5.85" fill="#fff" stroke="#000" stroke-width="3.10"/>
<circle cx="222.50" cy="427.00" r="5.85" fill="#fff" stroke="#000" stroke-width="3.10"/>
<rect x="257.55" y="368.75" width="20.40" height="48.75" fill="#fff" stroke="#000" stroke-width="1.5"/>
<text x="271.45" y="393.12" font-size="10.2" text-anchor="middle" stroke="#000" stroke-width="0.3" transform="rotate(-90 271.45 393.12)">4K7</text>
<circle cx="267.75" cy="358.75" r="5.85" fill="#fff" stroke="#000" stroke-width="3.10"/>
<circle cx="267.75" cy="427.00" r="5.85" fill="#fff" stroke="#000" stroke-width="3.10"/>
<rect x="280.18" y="368.75" width="20.40" height="48.75" fill="#fff" stroke="#000" stroke-width="1.5"/>
<text x="294.07" y="393.12" font-size="10.2" text-anchor="middle" stroke="#000" stroke-width="0.3" transform="rotate(-90 294.07 393.12)">4K7</text>
<circle cx="290.38" cy="358.75" r="5.85" fill="#fff" stroke="#000" stroke-width="3.10"/>
<circle cx="290.38" cy="427.00" r="5.85" fill="#fff" stroke="#000" stroke-width="3.10"/>
<rect x="325.43" y="368.75" width="20.40" height="48.75" fill="#fff" stroke="#000" stroke-width="1.5"/>
<text x="339.32" y="393.12" font-size="10.2" text-anchor="middle" stroke="#000" stroke-width="0.3" transform="rotate(-90 339.32 393.12)">47K</text>
<circle cx="335.62" cy="358.75" r="5.85" fill="#fff" stroke="#000" stroke-width="3.10"/>
<circle cx="335.62" cy="427.00" r="5.85" fill="#fff" stroke="#000" stroke-width="3.10"/>
<rect x="348.05" y="368.75" width="20.40" height="48.75" fill="#fff" stroke="#000" stroke-width="1.5"/>
<text x="361.95" y="393.12" font-size="10.2" text-anchor="middle" stroke="#000" stroke-width="0.3" transform="rotate(-90 361.95 393.12)">100K</text>
<circle cx="358.25" cy="358.75" r="5.85" fill="#fff" stroke="#000" stroke-width="3.10"/>
<circle cx="358.25" cy="427.00" r="5.85" fill="#fff" stroke="#000" stroke-width="3.10"/>
<rect x="370.68" y="368.75" width="20.40" height="48.75" fill="#fff" stroke="#000" stroke-width="1.5"/>
<text x="384.57" y="393.12" font-size="10.2" text-anchor="middle" stroke="#000" stroke-width="0.3" transform="rotate(-90 384.57 393.12)">4K7</text>
<circle cx="380.88" cy="358.75" r="5.85" fill="#fff" stroke="#000" stroke-width="3.10"/>
<circle cx="380.88" cy="427.00" r="5.85" fill="#fff" stroke="#000" stroke-width="3.10"/>
<rect x="393.30" y="368.75" width="20.40" height="48.75" fill="#fff" stroke="#000" stroke-width="1.5"/>
<text x="407.20" y="393.12" font-size="10.2" text-anchor="middle" stroke="#000" stroke-width="0.3" transform="rotate(-90 407.20 393.12)">100K</text>
<circle cx="403.50" cy="358.75" r="5.85" fill="#fff" stroke="#000" stroke-width="3.10"/>
<circle cx="403.50" cy="427.00" r="5.85" fill="#fff" stroke="#000" stroke-width="3.10"/>
<rect x="415.93" y="368.75" width="20.40" height="48.75" fill="#fff" stroke="#000" stroke-width="1.5"/>
<text x="429.82" y="393.12" font-size="10.2" text-anchor="middle" stroke="#000" stroke-width="0.3" transform="rotate(-90 429.82 393.12)">4K7</text>
<circle cx="426.12" cy="358.75" r="5.85" fill="#fff" stroke="#000" stroke-width="3.10"/>
<circle cx="426.12" cy="427.00" r="5.85" fill="#fff" stroke="#000" stroke-width="3.10"/>
<rect x="448.20" y="368.75" width="20.40" height="48.75" fill="#fff" stroke="#000" stroke-width="1.5"/>
<text x="462.10" y="393.12" font-size="10.2" text-anchor="middle" stroke="#000" stroke-width="0.3" transform="rotate(-90 462.10 393.12)">4K7</text>
<circle cx="458.40" cy="358.75" r="5.85" fill="#fff" stroke="#000" stroke-width="3.10"/>
<circle cx="458.40" cy="427.00" r="5.85" fill="#fff" stroke="#000" stroke-width="3.10"/>
<rect x="572.00" y="368.75" width="20.40" height="48.75" fill="#fff" stroke="#000" stroke-width="1.5"/>
<text x="585.90" y="393.12" font-size="10.2" text-anchor="middle" stroke="#000" stroke-width="0.3" transform="rotate(-90 585.90 393.12)">4K7</text>
<circle cx="582.20" cy="358.75" r="5.85" fill="#fff" stroke="#000" stroke-width="3.10"/>
<circle cx="582.20" cy="427.00" r="5.85" fill="#fff" stroke="#000" stroke-width="3.10"/>
<rect x="594.60" y="368.75" width="20.40" height="48.75" fill="#fff" stroke="#000" stroke-width="1.5"/>
<text x="608.50" y="393.12" font-size="10.2" text-anchor="middle" stroke="#000" stroke-width="0.3" transform="rotate(-90 608.50 393.12)">100K</text>
<circle cx="604.80" cy="358.75" r="5.85" fill="#fff" stroke="#000" stroke-width="3.10"/>
<circle cx="604.80" cy="427.00" r="5.85" fill="#fff" stroke="#000" stroke-width="3.10"/>
<rect x="616.80" y="368.75" width="20.40" height="48.75" fill="#fff" stroke="#000" stroke-width="1.5"/>
<text x="630.70" y="393.12" font-size="10.2" text-anchor="middle" stroke="#000" stroke-width="0.3" transform="rotate(-90 630.70 393.12)">100K</text>
<circle cx="627.00" cy="358.75" r="5.85" fill="#fff" stroke="#000" stroke-width="3.10"/>
<circle cx="627.00" cy="427.00" r="5.85" fill="#fff" stroke="#000" stroke-width="3.10"/>
<rect x="639.80" y="368.75" width="20.40" height="48.75" fill="#fff" stroke="#000" stroke-width="1.5"/>
<text x="653.70" y="393.12" font-size="10.2" text-anchor="middle" stroke="#000" stroke-width="0.3" transform="rotate(-90 653.70 393.12)">4K7</text>
<circle cx="650.00" cy="358.75" r="5.85" fill="#fff" stroke="#000" stroke-width="3.10"/>
<circle cx="650.00" cy="427.00" r="5.85" fill="#fff" stroke="#000" stroke-width="3.10"/>
<rect x="662.30" y="368.75" width="20.40" height="48.75" fill="#fff" stroke="#000" stroke-width="1.5"/>
<text x="676.20" y="393.12" font-size="10.2" text-anchor="middle" stroke="#000" stroke-width="0.3" transform="rotate(-90 676.20 393.12)">47K</text>
<circle cx="672.50" cy="358.75" r="5.85" fill="#fff" stroke="#000" stroke-width="3.10"/>
<circle cx="672.50" cy="427.00" r="5.85" fill="#fff" stroke="#000" stroke-width="3.10"/>
<rect x="684.80" y="368.75" width="20.40" height="48.75" fill="#fff" stroke="#000" stroke-width="1.5"/>
<text x="698.70" y="393.12" font-size="10.2" text-anchor="middle" stroke="#000" stroke-width="0.3" transform="rotate(-90 698.70 393.12)">4K7</text>
<circle cx="695.00" cy="358.75" r="5.85" fill="#fff" stroke="#000" stroke-width="3.10"/>
<circle cx="695.00" cy="427.00" r="5.85" fill="#fff" stroke="#000" stroke-width="3.10"/>
<rect x="707.30" y="368.75" width="20.40" height="48.75" fill="#fff" stroke="#000" stroke-width="1.5"/>
<text x="721.20" y="393.12" font-size="10.2" text-anchor="middle" stroke="#000" stroke-width="0.3" transform="rotate(-90 721.20 393.12)">47K</text>
<circle cx="717.50" cy="358.75" r="5.85" fill="#fff" stroke="#000" stroke-width="3.10"/>
<circle cx="717.50" cy="427.00" r="5.85" fill="#fff" stroke="#000" stroke-width="3.10"/>
<rect x="752.80" y="368.75" width="20.40" height="48.75" fill="#fff" stroke="#000" stroke-width="1.5"/>
<text x="766.70" y="393.12" font-size="10.2" text-anchor="middle" stroke="#000" stroke-width="0.3" transform="rotate(-90 766.70 393.12)">100K</text>
<circle cx="763.00" cy="358.75" r="5.85" fill="#fff" stroke="#000" stroke-width="3.10"/>
<circle cx="763.00" cy="427.00" r="5.85" fill="#fff" stroke="#000" stroke-width="3.10"/>
<rect x="775.40" y="368.75" width="20.40" height="48.75" fill="#fff" stroke="#000" stroke-width="1.5"/>
<text x="789.30" y="393.12" font-size="10.2" text-anchor="middle" stroke="#000" stroke-width="0.3" transform="rotate(-90 789.30 393.12)">100K</text>
<circle cx="785.60" cy="358.75" r="5.85" fill="#fff" stroke="#000" stroke-width="3.10"/>
<circle cx="785.60" cy="427.00" r="5.85" fill="#fff" stroke="#000" stroke-width="3.10"/>
<rect x="798.20" y="368.75" width="20.40" height="48.75" fill="#fff" stroke="#000" stroke-width="1.5"/>
<text x="812.10" y="393.12" font-size="10.2" text-anchor="middle" stroke="#000" stroke-width="0.3" transform="rotate(-90 812.10 393.12)">4K7</text>
<circle cx="808.40" cy="358.75" r="5.85" fill="#fff" stroke="#000" stroke-width="3.10"/>
<circle cx="808.40" cy="427.00" r="5.85" fill="#fff" stroke="#000" stroke-width="3.10"/>
<rect x="820.80" y="368.75" width="20.40" height="48.75" fill="#fff" stroke="#000" stroke-width="1.5"/>
<text x="834.70" y="393.12" font-size="10.2" text-anchor="middle" stroke="#000" stroke-width="0.3" transform="rotate(-90 834.70 393.12)">68K</text>
<circle cx="831.00" cy="358.75" r="5.85" fill="#fff" stroke="#000" stroke-width="3.10"/>
<circle cx="831.00" cy="427.00" r="5.85" fill="#fff" stroke="#000" stroke-width="3.10"/>
<rect x="843.30" y="368.75" width="20.40" height="48.75" fill="#fff" stroke="#000" stroke-width="1.5"/>
<text x="857.20" y="393.12" font-size="10.2" text-anchor="middle" stroke="#000" stroke-width="0.3" transform="rotate(-90 857.20 393.12)">4K7</text>
<circle cx="853.50" cy="358.75" r="5.85" fill="#fff" stroke="#000" stroke-width="3.10"/>
<circle cx="853.50" cy="427.00" r="5.85" fill="#fff" stroke="#000" stroke-width="3.10"/>
<rect x="889.05" y="368.75" width="20.40" height="48.75" fill="#fff" stroke="#000" stroke-width="1.5"/>
<text x="902.95" y="393.12" font-size="10.2" text-anchor="middle" stroke="#000" stroke-width="0.3" transform="rotate(-90 902.95 393.12)">4K7</text>
<circle cx="899.25" cy="358.75" r="5.85" fill="#fff" stroke="#000" stroke-width="3.10"/>
<circle cx="899.25" cy="427.00" r="5.85" fill="#fff" stroke="#000" stroke-width="3.10"/>
<rect x="911.30" y="368.75" width="20.40" height="48.75" fill="#fff" stroke="#000" stroke-width="1.5"/>
<text x="925.20" y="393.12" font-size="10.2" text-anchor="middle" stroke="#000" stroke-width="0.3" transform="rotate(-90 925.20 393.12)">22K</text>
<circle cx="921.50" cy="358.75" r="5.85" fill="#fff" stroke="#000" stroke-width="3.10"/>
<circle cx="921.50" cy="427.00" r="5.85" fill="#fff" stroke="#000" stroke-width="3.10"/>
<rect x="934.05" y="368.75" width="20.40" height="48.75" fill="#fff" stroke="#000" stroke-width="1.5"/>
<text x="947.95" y="393.12" font-size="10.2" text-anchor="middle" stroke="#000" stroke-width="0.3" transform="rotate(-90 947.95 393.12)">100K</text>
<circle cx="944.25" cy="358.75" r="5.85" fill="#fff" stroke="#000" stroke-width="3.10"/>
<circle cx="944.25" cy="427.00" r="5.85" fill="#fff" stroke="#000" stroke-width="3.10"/>
<rect x="956.55" y="368.75" width="20.40" height="48.75" fill="#fff" stroke="#000" stroke-width="1.5"/>
<text x="970.45" y="393.12" font-size="10.2" text-anchor="middle" stroke="#000" stroke-width="0.3" transform="rotate(-90 970.45 393.12)">47K</text>
<circle cx="966.75" cy="358.75" r="5.85" fill="#fff" stroke="#000" stroke-width="3.10"/>
<circle cx="966.75" cy="427.00" r="5.85" fill="#fff" stroke="#000" stroke-width="3.10"/>
<circle cx="199.90" cy="376.25" r="2.80" fill="#fff" stroke="#000" stroke-width="1.3"/>
<circle cx="937.25" cy="400.00" r="2.80" fill="#fff" stroke="#000" stroke-width="1.3"/>
<line x1="165.94" y1="368.75" x2="165.94" y2="417.50" stroke="#000" stroke-width="3.4" stroke-linecap="butt"/>
<line x1="683.75" y1="368.75" x2="683.75" y2="417.50" stroke="#000" stroke-width="3.4" stroke-linecap="butt"/>
<line x1="819.70" y1="368.75" x2="819.70" y2="417.50" stroke="#000" stroke-width="3.4" stroke-linecap="butt"/>
<rect x="234.50" y="362.50" width="21.40" height="61.25" fill="#fff" stroke="#000" stroke-width="1.8"/>
<text x="248.80" y="392.50" font-size="10.2" text-anchor="middle" stroke="#000" stroke-width="0.3" transform="rotate(-90 248.80 392.50)">330p</text>
<circle cx="245.10" cy="370.00" r="5.85" fill="#fff" stroke="#000" stroke-width="3.10"/>
<circle cx="245.10" cy="415.00" r="5.85" fill="#fff" stroke="#000" stroke-width="3.10"/>
<rect x="302.30" y="363.75" width="21.90" height="62.50" fill="#fff" stroke="#000" stroke-width="1.8"/>
<text x="316.70" y="394.75" font-size="10.2" text-anchor="middle" stroke="#000" stroke-width="0.3" transform="rotate(-90 316.70 394.75)">15n</text>
<circle cx="313.00" cy="372.00" r="5.85" fill="#fff" stroke="#000" stroke-width="3.10"/>
<circle cx="313.00" cy="417.50" r="5.85" fill="#fff" stroke="#000" stroke-width="3.10"/>
<rect x="471.25" y="362.00" width="35.00" height="62.25" fill="#fff" stroke="#000" stroke-width="1.8"/>
<text x="492.45" y="393.12" font-size="10.2" text-anchor="middle" stroke="#000" stroke-width="0.3" transform="rotate(-90 492.45 393.12)">220n</text>
<circle cx="488.75" cy="370.00" r="5.85" fill="#fff" stroke="#000" stroke-width="3.10"/>
<circle cx="488.75" cy="416.25" r="5.85" fill="#fff" stroke="#000" stroke-width="3.10"/>
<rect x="516.75" y="362.00" width="21.05" height="62.25" fill="#fff" stroke="#000" stroke-width="1.8"/>
<text x="529.95" y="393.12" font-size="10.2" text-anchor="middle" stroke="#000" stroke-width="0.3" transform="rotate(-90 529.95 393.12)">100n</text>
<circle cx="526.25" cy="370.00" r="5.85" fill="#fff" stroke="#000" stroke-width="3.10"/>
<circle cx="526.25" cy="416.25" r="5.85" fill="#fff" stroke="#000" stroke-width="3.10"/>
<rect x="537.80" y="362.00" width="22.70" height="62.25" fill="#fff" stroke="#000" stroke-width="1.8"/>
<text x="552.95" y="393.12" font-size="10.2" text-anchor="middle" stroke="#000" stroke-width="0.3" transform="rotate(-90 552.95 393.12)">100n</text>
<circle cx="549.25" cy="370.00" r="5.85" fill="#fff" stroke="#000" stroke-width="3.10"/>
<circle cx="549.25" cy="416.25" r="5.85" fill="#fff" stroke="#000" stroke-width="3.10"/>
<rect x="730.00" y="362.50" width="21.25" height="61.75" fill="#fff" stroke="#000" stroke-width="1.8"/>
<text x="744.20" y="393.12" font-size="10.2" text-anchor="middle" stroke="#000" stroke-width="0.3" transform="rotate(-90 744.20 393.12)">470p</text>
<circle cx="740.50" cy="370.00" r="5.85" fill="#fff" stroke="#000" stroke-width="3.10"/>
<circle cx="740.50" cy="416.25" r="5.85" fill="#fff" stroke="#000" stroke-width="3.10"/>
<rect x="866.00" y="362.50" width="21.25" height="61.75" fill="#fff" stroke="#000" stroke-width="1.8"/>
<text x="879.95" y="393.12" font-size="10.2" text-anchor="middle" stroke="#000" stroke-width="0.3" transform="rotate(-90 879.95 393.12)">4n7</text>
<circle cx="876.25" cy="370.00" r="5.85" fill="#fff" stroke="#000" stroke-width="3.10"/>
<circle cx="876.25" cy="416.25" r="5.85" fill="#fff" stroke="#000" stroke-width="3.10"/>
<line x1="537.80" y1="362.00" x2="537.80" y2="424.25" stroke="#000" stroke-width="2.6" stroke-linecap="butt"/>
<rect x="76.55" y="459.50" width="20.40" height="48.00" fill="#fff" stroke="#000" stroke-width="1.5"/>
<text x="90.45" y="483.50" font-size="10.2" text-anchor="middle" stroke="#000" stroke-width="0.3" transform="rotate(-90 90.45 483.50)">47K</text>
<circle cx="86.75" cy="449.50" r="5.85" fill="#fff" stroke="#000" stroke-width="3.10"/>
<circle cx="86.75" cy="517.50" r="5.85" fill="#fff" stroke="#000" stroke-width="3.10"/>
<rect x="99.20" y="459.50" width="20.40" height="48.00" fill="#fff" stroke="#000" stroke-width="1.5"/>
<text x="113.10" y="483.50" font-size="10.2" text-anchor="middle" stroke="#000" stroke-width="0.3" transform="rotate(-90 113.10 483.50)">22K</text>
<circle cx="109.40" cy="449.50" r="5.85" fill="#fff" stroke="#000" stroke-width="3.10"/>
<circle cx="109.40" cy="517.50" r="5.85" fill="#fff" stroke="#000" stroke-width="3.10"/>
<circle cx="153.25" cy="465.20" r="22.10" fill="#fff" stroke="#000" stroke-width="1.6"/>
<rect x="145.75" y="446.35" width="15.00" height="15.00" fill="#000"/>
<circle cx="153.25" cy="453.85" r="4.30" fill="#fff"/>
<circle cx="153.25" cy="476.55" r="5.85" fill="#fff" stroke="#000" stroke-width="3.10"/>
<text x="167.75" y="471.70" font-size="8.6" text-anchor="middle" textLength="9.20" lengthAdjust="spacingAndGlyphs" stroke="#000" stroke-width="0.3">1u</text>
<circle cx="255.20" cy="465.00" r="22.10" fill="#fff" stroke="#000" stroke-width="1.6"/>
<rect x="247.70" y="446.15" width="15.00" height="15.00" fill="#000"/>
<circle cx="255.20" cy="453.65" r="4.30" fill="#fff"/>
<circle cx="255.20" cy="476.35" r="5.85" fill="#fff" stroke="#000" stroke-width="3.10"/>
<text x="240.70" y="468.20" font-size="8.6" text-anchor="middle" textLength="9.20" lengthAdjust="spacingAndGlyphs" stroke="#000" stroke-width="0.3">1u</text>
<circle cx="98.00" cy="547.50" r="22.10" fill="#fff" stroke="#000" stroke-width="1.6"/>
<rect x="101.85" y="540.00" width="15.00" height="15.00" fill="#000"/>
<circle cx="109.35" cy="547.50" r="4.30" fill="#fff"/>
<circle cx="86.65" cy="547.50" r="5.85" fill="#fff" stroke="#000" stroke-width="3.10"/>
<line x1="104.50" y1="534.10" x2="112.90" y2="534.10" stroke="#000" stroke-width="1.6" stroke-linecap="butt"/>
<line x1="108.70" y1="529.90" x2="108.70" y2="538.30" stroke="#000" stroke-width="1.6" stroke-linecap="butt"/>
<text x="96.50" y="564.70" font-size="8.6" text-anchor="middle" textLength="9.20" lengthAdjust="spacingAndGlyphs" stroke="#000" stroke-width="0.3">1u</text>
<circle cx="798.50" cy="465.20" r="22.10" fill="#fff" stroke="#000" stroke-width="1.6"/>
<rect x="791.00" y="446.35" width="15.00" height="15.00" fill="#000"/>
<circle cx="798.50" cy="453.85" r="4.30" fill="#fff"/>
<circle cx="798.50" cy="476.55" r="5.85" fill="#fff" stroke="#000" stroke-width="3.10"/>
<line x1="808.30" y1="454.40" x2="815.30" y2="454.40" stroke="#000" stroke-width="1.6" stroke-linecap="butt"/>
<line x1="811.80" y1="450.90" x2="811.80" y2="457.90" stroke="#000" stroke-width="1.6" stroke-linecap="butt"/>
<text x="783.50" y="469.60" font-size="12" text-anchor="middle" textLength="10.00" lengthAdjust="spacingAndGlyphs" stroke="#000" stroke-width="0.45">1u</text>
<text x="203.00" y="452.00" font-size="10.4" text-anchor="middle" textLength="51.50" lengthAdjust="spacingAndGlyphs" stroke="#000" stroke-width="0.25">INDICATOR</text>
<text x="202.00" y="462.00" font-size="10.2" text-anchor="middle" textLength="40.00" lengthAdjust="spacingAndGlyphs" stroke="#000" stroke-width="0.25">BYPASS</text>
<path d="M190.34 473.84A13.80 13.80 0 0 1 209.86 473.84" fill="none" stroke="#000" stroke-width="1.9"/>
<path d="M209.86 494.16A13.80 13.80 0 0 1 190.34 494.16" fill="none" stroke="#000" stroke-width="1.9"/>
<rect x="181.25" y="476.25" width="15.00" height="15.00" fill="#000"/>
<circle cx="188.75" cy="483.75" r="4.30" fill="#fff"/>
<circle cx="211.25" cy="483.75" r="5.85" fill="#fff" stroke="#000" stroke-width="3.10"/>
<line x1="184.80" y1="469.90" x2="191.40" y2="469.90" stroke="#000" stroke-width="1.3" stroke-linecap="butt"/>
<line x1="188.10" y1="466.60" x2="188.10" y2="473.20" stroke="#000" stroke-width="1.3" stroke-linecap="butt"/>
<line x1="210.10" y1="469.90" x2="214.90" y2="469.90" stroke="#000" stroke-width="1.3" stroke-linecap="butt"/>
<line x1="182.80" y1="498.40" x2="190.00" y2="498.40" stroke="#000" stroke-width="1.3" stroke-linecap="butt"/>
<line x1="186.40" y1="494.80" x2="186.40" y2="502.00" stroke="#000" stroke-width="1.3" stroke-linecap="butt"/>
<line x1="209.10" y1="498.50" x2="214.70" y2="498.50" stroke="#000" stroke-width="1.3" stroke-linecap="butt"/>
<text x="853.00" y="454.70" font-size="10.4" text-anchor="middle" textLength="52.20" lengthAdjust="spacingAndGlyphs" stroke="#000" stroke-width="0.25">INDICATOR</text>
<text x="853.40" y="464.50" font-size="10.2" text-anchor="middle" textLength="31.30" lengthAdjust="spacingAndGlyphs" stroke="#000" stroke-width="0.25">SPEED</text>
<path d="M842.37 473.57A13.90 13.90 0 0 1 862.03 473.57" fill="none" stroke="#000" stroke-width="1.9"/>
<path d="M862.03 494.23A13.90 13.90 0 0 1 842.37 494.23" fill="none" stroke="#000" stroke-width="1.9"/>
<circle cx="840.90" cy="483.75" r="5.85" fill="#fff" stroke="#000" stroke-width="3.10"/>
<rect x="856.25" y="476.25" width="15.00" height="15.00" fill="#000"/>
<circle cx="863.75" cy="483.75" r="4.30" fill="#fff"/>
<line x1="837.20" y1="497.60" x2="843.40" y2="497.60" stroke="#000" stroke-width="1.2" stroke-linecap="butt"/>
<line x1="837.20" y1="500.00" x2="843.40" y2="500.00" stroke="#000" stroke-width="1.2" stroke-linecap="butt"/>
<line x1="864.50" y1="494.40" x2="864.50" y2="505.00" stroke="#000" stroke-width="1.2" stroke-linecap="butt"/>
<line x1="860.30" y1="497.60" x2="868.70" y2="497.60" stroke="#000" stroke-width="1.2" stroke-linecap="butt"/>
<line x1="860.30" y1="500.00" x2="868.70" y2="500.00" stroke="#000" stroke-width="1.2" stroke-linecap="butt"/>
<rect x="911.25" y="451.25" width="49.25" height="20.00" fill="#fff" stroke="#000" stroke-width="1.4"/>
<text x="935.88" y="464.95" font-size="10.2" text-anchor="middle" stroke="#000" stroke-width="0.3">4K7</text>
<circle cx="901.75" cy="461.25" r="5.85" fill="#fff" stroke="#000" stroke-width="3.10"/>
<circle cx="969.75" cy="461.25" r="5.85" fill="#fff" stroke="#000" stroke-width="3.10"/>
<rect x="911.25" y="473.75" width="49.25" height="20.00" fill="#fff" stroke="#000" stroke-width="1.4"/>
<text x="935.88" y="487.45" font-size="10.2" text-anchor="middle" stroke="#000" stroke-width="0.3">4K7</text>
<circle cx="901.75" cy="483.75" r="5.85" fill="#fff" stroke="#000" stroke-width="3.10"/>
<circle cx="969.75" cy="483.75" r="5.85" fill="#fff" stroke="#000" stroke-width="3.10"/>
<rect x="132.00" y="530.20" width="136.20" height="22.60" fill="#fff" stroke="#000" stroke-width="2.3"/>
<circle cx="142.50" cy="541.75" r="7.5" fill="#fff" stroke="#000" stroke-width="4.0"/>
<text x="145.30" y="562.80" font-size="10.2" text-anchor="middle" textLength="5.20" lengthAdjust="spacingAndGlyphs" stroke="#000" stroke-width="0.3">1</text>
<circle cx="165.00" cy="541.75" r="7.5" fill="#fff" stroke="#000" stroke-width="4.0"/>
<text x="167.80" y="562.80" font-size="10.2" text-anchor="middle" textLength="5.20" lengthAdjust="spacingAndGlyphs" stroke="#000" stroke-width="0.3">2</text>
<circle cx="188.00" cy="541.75" r="7.5" fill="#fff" stroke="#000" stroke-width="4.0"/>
<text x="190.80" y="562.80" font-size="10.2" text-anchor="middle" textLength="5.20" lengthAdjust="spacingAndGlyphs" stroke="#000" stroke-width="0.3">3</text>
<circle cx="210.50" cy="541.75" r="7.5" fill="#fff" stroke="#000" stroke-width="4.0"/>
<text x="213.30" y="562.80" font-size="10.2" text-anchor="middle" textLength="5.20" lengthAdjust="spacingAndGlyphs" stroke="#000" stroke-width="0.3">4</text>
<circle cx="233.75" cy="541.75" r="7.5" fill="#fff" stroke="#000" stroke-width="4.0"/>
<text x="236.55" y="562.80" font-size="10.2" text-anchor="middle" textLength="5.20" lengthAdjust="spacingAndGlyphs" stroke="#000" stroke-width="0.3">5</text>
<circle cx="256.50" cy="541.75" r="7.5" fill="#fff" stroke="#000" stroke-width="4.0"/>
<text x="259.30" y="562.80" font-size="10.2" text-anchor="middle" textLength="5.20" lengthAdjust="spacingAndGlyphs" stroke="#000" stroke-width="0.3">6</text>
<text x="199.60" y="526.80" font-size="10.7" text-anchor="middle" textLength="68.60" lengthAdjust="spacingAndGlyphs" stroke="#000" stroke-width="0.42">BYPASS-SW</text>
<rect x="762.40" y="528.90" width="183.80" height="25.70" fill="#fff" stroke="#000" stroke-width="2.3"/>
<circle cx="774.30" cy="541.75" r="7.5" fill="#fff" stroke="#000" stroke-width="4.0"/>
<text x="774.30" y="565.50" font-size="9" text-anchor="middle" textLength="5.20" lengthAdjust="spacingAndGlyphs" stroke="#000" stroke-width="0.3">7</text>
<circle cx="797.30" cy="541.75" r="7.5" fill="#fff" stroke="#000" stroke-width="4.0"/>
<text x="797.30" y="565.50" font-size="9" text-anchor="middle" textLength="5.20" lengthAdjust="spacingAndGlyphs" stroke="#000" stroke-width="0.3">8</text>
<circle cx="819.90" cy="541.75" r="7.5" fill="#fff" stroke="#000" stroke-width="4.0"/>
<text x="819.90" y="565.50" font-size="9" text-anchor="middle" textLength="5.20" lengthAdjust="spacingAndGlyphs" stroke="#000" stroke-width="0.3">9</text>
<circle cx="842.50" cy="541.75" r="7.5" fill="#fff" stroke="#000" stroke-width="4.0"/>
<text x="842.50" y="565.50" font-size="9" text-anchor="middle" textLength="10.40" lengthAdjust="spacingAndGlyphs" stroke="#000" stroke-width="0.3">10</text>
<circle cx="865.00" cy="541.75" r="7.5" fill="#fff" stroke="#000" stroke-width="4.0"/>
<text x="865.00" y="565.50" font-size="9" text-anchor="middle" textLength="10.40" lengthAdjust="spacingAndGlyphs" stroke="#000" stroke-width="0.3">11</text>
<circle cx="887.60" cy="541.75" r="7.5" fill="#fff" stroke="#000" stroke-width="4.0"/>
<text x="887.60" y="565.50" font-size="9" text-anchor="middle" textLength="10.40" lengthAdjust="spacingAndGlyphs" stroke="#000" stroke-width="0.3">12</text>
<circle cx="910.20" cy="541.75" r="7.5" fill="#fff" stroke="#000" stroke-width="4.0"/>
<text x="910.20" y="565.50" font-size="9" text-anchor="middle" textLength="10.40" lengthAdjust="spacingAndGlyphs" stroke="#000" stroke-width="0.3">13</text>
<circle cx="932.80" cy="541.75" r="7.5" fill="#fff" stroke="#000" stroke-width="4.0"/>
<text x="932.80" y="565.50" font-size="9" text-anchor="middle" textLength="10.40" lengthAdjust="spacingAndGlyphs" stroke="#000" stroke-width="0.3">14</text>
<text x="854.30" y="525.60" font-size="10.3" text-anchor="middle" textLength="59.00" lengthAdjust="spacingAndGlyphs" stroke="#000" stroke-width="0.42">SPEED-SW</text>
<circle cx="446.00" cy="456.40" r="3.30" fill="#fff" stroke="#000" stroke-width="1.6"/>
<circle cx="343.00" cy="531.75" r="3.30" fill="#fff" stroke="#000" stroke-width="1.6"/>
<circle cx="303.00" cy="541.25" r="3.30" fill="#fff" stroke="#000" stroke-width="1.6"/>
<circle cx="634.00" cy="524.70" r="3.30" fill="#fff" stroke="#000" stroke-width="1.6"/>
<circle cx="616.60" cy="541.80" r="3.30" fill="#fff" stroke="#000" stroke-width="1.6"/>
<circle cx="768.75" cy="336.25" r="3.30" fill="#fff" stroke="#000" stroke-width="1.6"/>
<circle cx="758.75" cy="489.25" r="3.30" fill="#fff" stroke="#000" stroke-width="1.6"/>
<circle cx="812.50" cy="489.25" r="3.30" fill="#fff" stroke="#000" stroke-width="1.6"/>
<circle cx="892.25" cy="500.50" r="3.30" fill="#fff" stroke="#000" stroke-width="1.6"/>
<circle cx="509.80" cy="553.40" r="3.30" fill="#fff" stroke="#000" stroke-width="1.6"/>
<circle cx="533.90" cy="576.80" r="3.30" fill="#fff" stroke="#000" stroke-width="1.6"/>
<circle cx="701.25" cy="548.80" r="3.30" fill="#fff" stroke="#000" stroke-width="1.6"/>
<circle cx="534.60" cy="678.70" r="3.30" fill="#fff" stroke="#000" stroke-width="1.6"/>
<path d="M453.46 465.22 L479.12 439.56 A27.6 27.6 0 0 1 508.54 468.98 L482.88 494.64 A27.6 27.6 0 0 1 453.46 465.22Z" fill="#fff" stroke="#000" stroke-width="1.6"/>
<path d="M466.43 462.29 L476.19 452.53 L480.43 456.78 L470.68 466.53 L474.92 470.78 L484.68 461.02 L488.92 465.26 L479.16 475.02 L483.40 479.26 L493.16 469.50" fill="none" stroke="#000" stroke-width="1.9" stroke-linejoin="miter"/>
<circle cx="468.98" cy="479.12" r="5.95" fill="#fff" stroke="#000" stroke-width="2.8"/>
<circle cx="493.02" cy="455.08" r="5.95" fill="#fff" stroke="#000" stroke-width="2.8"/>
<path d="M574.88 438.66 L600.54 464.32 A27.6 27.6 0 0 1 571.12 493.74 L545.46 468.08 A27.6 27.6 0 0 1 574.88 438.66Z" fill="#fff" stroke="#000" stroke-width="1.6"/>
<path d="M576.61 452.84 L586.36 462.59 L582.12 466.84 L572.36 457.08 L568.12 461.32 L577.88 471.08 L573.64 475.32 L563.88 465.56 L559.64 469.81 L569.39 479.56" fill="none" stroke="#000" stroke-width="1.9" stroke-linejoin="miter"/>
<circle cx="560.98" cy="454.18" r="5.95" fill="#fff" stroke="#000" stroke-width="2.8"/>
<circle cx="585.02" cy="478.22" r="5.95" fill="#fff" stroke="#000" stroke-width="2.8"/>
<path d="M601.84 559.98 L576.18 585.64 A27.6 27.6 0 0 1 546.76 556.22 L572.42 530.56 A27.6 27.6 0 0 1 601.84 559.98Z" fill="#fff" stroke="#000" stroke-width="1.6"/>
<path d="M587.66 561.71 L577.91 571.46 L573.66 567.22 L583.42 557.46 L579.18 553.22 L569.42 562.98 L565.18 558.74 L574.94 548.98 L570.69 544.74 L560.94 554.49" fill="none" stroke="#000" stroke-width="1.9" stroke-linejoin="miter"/>
<circle cx="586.32" cy="546.08" r="5.95" fill="#fff" stroke="#000" stroke-width="2.8"/>
<circle cx="562.28" cy="570.12" r="5.95" fill="#fff" stroke="#000" stroke-width="2.8"/>
<path d="M477.22 585.54 L451.56 559.88 A27.6 27.6 0 0 1 480.98 530.46 L506.64 556.12 A27.6 27.6 0 0 1 477.22 585.54Z" fill="#fff" stroke="#000" stroke-width="1.6"/>
<path d="M475.49 571.36 L465.74 561.61 L469.98 557.36 L479.74 567.12 L483.98 562.88 L474.22 553.12 L478.46 548.88 L488.22 558.64 L492.46 554.39 L482.71 544.64" fill="none" stroke="#000" stroke-width="1.9" stroke-linejoin="miter"/>
<circle cx="491.12" cy="570.02" r="5.95" fill="#fff" stroke="#000" stroke-width="2.8"/>
<circle cx="467.08" cy="545.98" r="5.95" fill="#fff" stroke="#000" stroke-width="2.8"/>
<circle cx="526.8" cy="511.8" r="31.4" fill="none" stroke="#000" stroke-width="2.7"/>
<circle cx="526.8" cy="511.8" r="35.6" fill="none" stroke="#000" stroke-width="1.4"/>
<path d="M486.73 501.81A41.30 41.30 0 0 1 566.87 501.81" fill="none" stroke="#000" stroke-width="1.7"/>
<path d="M567.70 517.55A41.30 41.30 0 0 1 485.90 517.55" fill="none" stroke="#000" stroke-width="1.7"/>
<rect x="519.30" y="492.90" width="15.20" height="15.20" fill="#000"/>
<circle cx="526.90" cy="500.50" r="4.50" fill="#fff"/>
<circle cx="526.90" cy="523.30" r="6.05" fill="#fff" stroke="#000" stroke-width="3.10"/>
<line x1="523.30" y1="487.60" x2="530.50" y2="487.60" stroke="#000" stroke-width="1.4" stroke-linecap="butt"/>
<line x1="526.90" y1="484.00" x2="526.90" y2="491.20" stroke="#000" stroke-width="1.4" stroke-linecap="butt"/>
<line x1="525.30" y1="535.30" x2="529.50" y2="535.30" stroke="#000" stroke-width="1.6" stroke-linecap="butt"/>
<text x="513.70" y="513.30" font-size="10.6" text-anchor="middle" textLength="29.30" lengthAdjust="spacingAndGlyphs" stroke="#000" stroke-width="0.8" transform="rotate(-90 513.70 513.30)">LAMP</text>
<text x="549.80" y="512.90" font-size="10.2" text-anchor="middle" textLength="17.80" lengthAdjust="spacingAndGlyphs" stroke="#000" stroke-width="0.8" transform="rotate(-90 549.80 512.90)">12V</text>
<line x1="489.30" y1="435.10" x2="560.50" y2="435.10" stroke="#000" stroke-width="2" stroke-linecap="butt"/>
<line x1="489.30" y1="439.40" x2="560.50" y2="439.40" stroke="#000" stroke-width="2" stroke-linecap="butt"/>
<line x1="488.00" y1="585.60" x2="561.60" y2="585.60" stroke="#000" stroke-width="2" stroke-linecap="butt"/>
<line x1="488.00" y1="589.60" x2="561.60" y2="589.60" stroke="#000" stroke-width="2" stroke-linecap="butt"/>
<line x1="449.10" y1="478.70" x2="449.10" y2="542.20" stroke="#000" stroke-width="2" stroke-linecap="butt"/>
<line x1="453.50" y1="478.70" x2="453.50" y2="542.20" stroke="#000" stroke-width="2" stroke-linecap="butt"/>
<line x1="600.10" y1="473.30" x2="600.10" y2="544.00" stroke="#000" stroke-width="2" stroke-linecap="butt"/>
<line x1="604.70" y1="473.30" x2="604.70" y2="544.00" stroke="#000" stroke-width="2" stroke-linecap="butt"/>
<text x="528.10" y="455.50" font-size="13.4" text-anchor="middle" textLength="30.60" lengthAdjust="spacingAndGlyphs" stroke="#000" stroke-width="0.25">LDR1</text>
<text x="525.50" y="576.30" font-size="13.4" text-anchor="middle" textLength="33.00" lengthAdjust="spacingAndGlyphs" stroke="#000" stroke-width="0.25">LDR3</text>
<text x="471.70" y="511.60" font-size="13.4" text-anchor="middle" textLength="33.00" lengthAdjust="spacingAndGlyphs" stroke="#000" stroke-width="0.25" transform="rotate(-90 471.70 511.60)">LDR2</text>
<text x="590.20" y="509.60" font-size="13.4" text-anchor="middle" textLength="33.00" lengthAdjust="spacingAndGlyphs" stroke="#000" stroke-width="0.25" transform="rotate(-90 590.20 509.60)">LDR4</text>
<path d="M320.88 566.83A21.10 21.10 0 0 1 328.82 557.86" fill="none" stroke="#000" stroke-width="1.7"/>
<path d="M351.18 557.86A21.10 21.10 0 0 1 359.12 566.83" fill="none" stroke="#000" stroke-width="1.7"/>
<path d="M359.94 585.05A22.00 22.00 0 0 1 357.13 589.55" fill="none" stroke="#000" stroke-width="1.7"/>
<path d="M322.87 589.55A22.00 22.00 0 0 1 320.06 585.05" fill="none" stroke="#000" stroke-width="1.7"/>
<line x1="322.37" y1="589.55" x2="357.63" y2="589.55" stroke="#000" stroke-width="1.8" stroke-linecap="butt"/>
<circle cx="317.38" cy="575.75" r="5.85" fill="#fff" stroke="#000" stroke-width="3.10"/>
<circle cx="340.00" cy="575.75" r="5.85" fill="#fff" stroke="#000" stroke-width="3.10"/>
<circle cx="362.62" cy="575.75" r="5.85" fill="#fff" stroke="#000" stroke-width="3.10"/>
<text x="340.00" y="548.15" font-size="9.9" text-anchor="middle" textLength="11.60" lengthAdjust="spacingAndGlyphs" stroke="#000" stroke-width="0.3">Q1</text>
<text x="340.00" y="557.15" font-size="9.7" text-anchor="middle" textLength="25.20" lengthAdjust="spacingAndGlyphs" stroke="#000" stroke-width="0.3">5088</text>
<path d="M388.68 566.83A21.10 21.10 0 0 1 396.62 557.86" fill="none" stroke="#000" stroke-width="1.7"/>
<path d="M418.98 557.86A21.10 21.10 0 0 1 426.92 566.83" fill="none" stroke="#000" stroke-width="1.7"/>
<path d="M427.74 585.05A22.00 22.00 0 0 1 424.93 589.55" fill="none" stroke="#000" stroke-width="1.7"/>
<path d="M390.67 589.55A22.00 22.00 0 0 1 387.86 585.05" fill="none" stroke="#000" stroke-width="1.7"/>
<line x1="390.17" y1="589.55" x2="425.43" y2="589.55" stroke="#000" stroke-width="1.8" stroke-linecap="butt"/>
<circle cx="385.18" cy="575.75" r="5.85" fill="#fff" stroke="#000" stroke-width="3.10"/>
<circle cx="407.80" cy="575.75" r="5.85" fill="#fff" stroke="#000" stroke-width="3.10"/>
<circle cx="430.42" cy="575.75" r="5.85" fill="#fff" stroke="#000" stroke-width="3.10"/>
<text x="407.80" y="548.15" font-size="9.9" text-anchor="middle" textLength="11.60" lengthAdjust="spacingAndGlyphs" stroke="#000" stroke-width="0.3">Q2</text>
<text x="407.80" y="557.15" font-size="9.7" text-anchor="middle" textLength="25.20" lengthAdjust="spacingAndGlyphs" stroke="#000" stroke-width="0.3">5088</text>
<path d="M624.63 566.83A21.10 21.10 0 0 1 632.57 557.86" fill="none" stroke="#000" stroke-width="1.7"/>
<path d="M654.93 557.86A21.10 21.10 0 0 1 662.87 566.83" fill="none" stroke="#000" stroke-width="1.7"/>
<path d="M663.69 585.05A22.00 22.00 0 0 1 660.88 589.55" fill="none" stroke="#000" stroke-width="1.7"/>
<path d="M626.62 589.55A22.00 22.00 0 0 1 623.81 585.05" fill="none" stroke="#000" stroke-width="1.7"/>
<line x1="626.12" y1="589.55" x2="661.38" y2="589.55" stroke="#000" stroke-width="1.8" stroke-linecap="butt"/>
<circle cx="621.13" cy="575.75" r="5.85" fill="#fff" stroke="#000" stroke-width="3.10"/>
<circle cx="643.75" cy="575.75" r="5.85" fill="#fff" stroke="#000" stroke-width="3.10"/>
<circle cx="666.37" cy="575.75" r="5.85" fill="#fff" stroke="#000" stroke-width="3.10"/>
<text x="643.75" y="548.15" font-size="9.9" text-anchor="middle" textLength="11.60" lengthAdjust="spacingAndGlyphs" stroke="#000" stroke-width="0.3">Q3</text>
<text x="643.75" y="557.15" font-size="9.7" text-anchor="middle" textLength="25.20" lengthAdjust="spacingAndGlyphs" stroke="#000" stroke-width="0.3">5088</text>
<path d="M692.78 566.83A21.10 21.10 0 0 1 700.72 557.86" fill="none" stroke="#000" stroke-width="1.7"/>
<path d="M723.08 557.86A21.10 21.10 0 0 1 731.02 566.83" fill="none" stroke="#000" stroke-width="1.7"/>
<path d="M731.84 585.05A22.00 22.00 0 0 1 729.03 589.55" fill="none" stroke="#000" stroke-width="1.7"/>
<path d="M694.77 589.55A22.00 22.00 0 0 1 691.96 585.05" fill="none" stroke="#000" stroke-width="1.7"/>
<line x1="694.27" y1="589.55" x2="729.53" y2="589.55" stroke="#000" stroke-width="1.8" stroke-linecap="butt"/>
<circle cx="689.28" cy="575.75" r="5.85" fill="#fff" stroke="#000" stroke-width="3.10"/>
<circle cx="711.90" cy="575.75" r="5.85" fill="#fff" stroke="#000" stroke-width="3.10"/>
<circle cx="734.52" cy="575.75" r="5.85" fill="#fff" stroke="#000" stroke-width="3.10"/>
<text x="711.90" y="548.15" font-size="9.9" text-anchor="middle" textLength="11.60" lengthAdjust="spacingAndGlyphs" stroke="#000" stroke-width="0.3">Q4</text>
<text x="711.90" y="557.15" font-size="9.7" text-anchor="middle" textLength="25.20" lengthAdjust="spacingAndGlyphs" stroke="#000" stroke-width="0.3">5088</text>
<rect x="307.30" y="610.75" width="20.40" height="48.50" fill="#fff" stroke="#000" stroke-width="1.5"/>
<text x="321.20" y="635.00" font-size="10.2" text-anchor="middle" stroke="#000" stroke-width="0.3" transform="rotate(-90 321.20 635.00)">4K7</text>
<circle cx="317.50" cy="601.25" r="5.85" fill="#fff" stroke="#000" stroke-width="3.10"/>
<circle cx="317.50" cy="669.25" r="5.85" fill="#fff" stroke="#000" stroke-width="3.10"/>
<rect x="329.80" y="610.75" width="20.40" height="48.50" fill="#fff" stroke="#000" stroke-width="1.5"/>
<text x="343.70" y="635.00" font-size="10.2" text-anchor="middle" stroke="#000" stroke-width="0.3" transform="rotate(-90 343.70 635.00)">2M2</text>
<circle cx="340.00" cy="601.25" r="5.85" fill="#fff" stroke="#000" stroke-width="3.10"/>
<circle cx="340.00" cy="669.25" r="5.85" fill="#fff" stroke="#000" stroke-width="3.10"/>
<rect x="352.30" y="610.75" width="20.40" height="48.50" fill="#fff" stroke="#000" stroke-width="1.5"/>
<text x="366.20" y="635.00" font-size="10.2" text-anchor="middle" stroke="#000" stroke-width="0.3" transform="rotate(-90 366.20 635.00)">3K3</text>
<circle cx="362.50" cy="601.25" r="5.85" fill="#fff" stroke="#000" stroke-width="3.10"/>
<circle cx="362.50" cy="669.25" r="5.85" fill="#fff" stroke="#000" stroke-width="3.10"/>
<rect x="374.80" y="610.75" width="20.40" height="48.50" fill="#fff" stroke="#000" stroke-width="1.5"/>
<text x="388.70" y="635.00" font-size="10.2" text-anchor="middle" stroke="#000" stroke-width="0.3" transform="rotate(-90 388.70 635.00)">4K7</text>
<circle cx="385.00" cy="601.25" r="5.85" fill="#fff" stroke="#000" stroke-width="3.10"/>
<circle cx="385.00" cy="669.25" r="5.85" fill="#fff" stroke="#000" stroke-width="3.10"/>
<rect x="397.80" y="610.75" width="20.40" height="48.50" fill="#fff" stroke="#000" stroke-width="1.5"/>
<text x="411.70" y="635.00" font-size="10.2" text-anchor="middle" stroke="#000" stroke-width="0.3" transform="rotate(-90 411.70 635.00)">220K</text>
<circle cx="408.00" cy="601.25" r="5.85" fill="#fff" stroke="#000" stroke-width="3.10"/>
<circle cx="408.00" cy="669.25" r="5.85" fill="#fff" stroke="#000" stroke-width="3.10"/>
<rect x="420.30" y="610.75" width="20.40" height="48.50" fill="#fff" stroke="#000" stroke-width="1.5"/>
<text x="434.20" y="635.00" font-size="10.2" text-anchor="middle" stroke="#000" stroke-width="0.3" transform="rotate(-90 434.20 635.00)">100R</text>
<circle cx="430.50" cy="601.25" r="5.85" fill="#fff" stroke="#000" stroke-width="3.10"/>
<circle cx="430.50" cy="669.25" r="5.85" fill="#fff" stroke="#000" stroke-width="3.10"/>
<rect x="611.05" y="610.75" width="20.40" height="48.50" fill="#fff" stroke="#000" stroke-width="1.5"/>
<text x="624.95" y="635.00" font-size="10.2" text-anchor="middle" stroke="#000" stroke-width="0.3" transform="rotate(-90 624.95 635.00)">47K</text>
<circle cx="621.25" cy="601.25" r="5.85" fill="#fff" stroke="#000" stroke-width="3.10"/>
<circle cx="621.25" cy="669.25" r="5.85" fill="#fff" stroke="#000" stroke-width="3.10"/>
<rect x="633.55" y="610.75" width="20.40" height="48.50" fill="#fff" stroke="#000" stroke-width="1.5"/>
<text x="647.45" y="635.00" font-size="10.2" text-anchor="middle" stroke="#000" stroke-width="0.3" transform="rotate(-90 647.45 635.00)">4K7</text>
<circle cx="643.75" cy="601.25" r="5.85" fill="#fff" stroke="#000" stroke-width="3.10"/>
<circle cx="643.75" cy="669.25" r="5.85" fill="#fff" stroke="#000" stroke-width="3.10"/>
<rect x="656.05" y="610.75" width="20.40" height="48.50" fill="#fff" stroke="#000" stroke-width="1.5"/>
<text x="669.95" y="635.00" font-size="10.2" text-anchor="middle" stroke="#000" stroke-width="0.3" transform="rotate(-90 669.95 635.00)">220K</text>
<circle cx="666.25" cy="601.25" r="5.85" fill="#fff" stroke="#000" stroke-width="3.10"/>
<circle cx="666.25" cy="669.25" r="5.85" fill="#fff" stroke="#000" stroke-width="3.10"/>
<rect x="679.05" y="610.75" width="20.40" height="48.50" fill="#fff" stroke="#000" stroke-width="1.5"/>
<text x="692.95" y="635.00" font-size="10.2" text-anchor="middle" stroke="#000" stroke-width="0.3" transform="rotate(-90 692.95 635.00)">4K7</text>
<circle cx="689.25" cy="601.25" r="5.85" fill="#fff" stroke="#000" stroke-width="3.10"/>
<circle cx="689.25" cy="669.25" r="5.85" fill="#fff" stroke="#000" stroke-width="3.10"/>
<rect x="701.80" y="610.75" width="20.40" height="48.50" fill="#fff" stroke="#000" stroke-width="1.5"/>
<text x="715.70" y="635.00" font-size="10.2" text-anchor="middle" stroke="#000" stroke-width="0.3" transform="rotate(-90 715.70 635.00)">4K7</text>
<circle cx="712.00" cy="601.25" r="5.85" fill="#fff" stroke="#000" stroke-width="3.10"/>
<circle cx="712.00" cy="669.25" r="5.85" fill="#fff" stroke="#000" stroke-width="3.10"/>
<rect x="724.30" y="610.75" width="20.40" height="48.50" fill="#fff" stroke="#000" stroke-width="1.5"/>
<text x="738.20" y="635.00" font-size="10.2" text-anchor="middle" stroke="#000" stroke-width="0.3" transform="rotate(-90 738.20 635.00)">47K</text>
<circle cx="734.50" cy="601.25" r="5.85" fill="#fff" stroke="#000" stroke-width="3.10"/>
<circle cx="734.50" cy="669.25" r="5.85" fill="#fff" stroke="#000" stroke-width="3.10"/>
<circle cx="385.00" cy="648.60" r="2.70" fill="#fff" stroke="#000" stroke-width="2.4"/>
<line x1="328.75" y1="610.75" x2="328.75" y2="659.25" stroke="#000" stroke-width="3.4" stroke-linecap="butt"/>
<line x1="452.50" y1="601.25" x2="452.50" y2="668.80" stroke="#000" stroke-width="2" stroke-linecap="butt"/>
<rect x="443.30" y="615.60" width="18.40" height="39.60" fill="#fff" stroke="#000" stroke-width="1.8"/>
<line x1="443.30" y1="645.60" x2="461.70" y2="645.60" stroke="#000" stroke-width="1.9" stroke-linecap="butt"/>
<line x1="443.30" y1="650.00" x2="461.70" y2="650.00" stroke="#000" stroke-width="2.2" stroke-linecap="butt"/>
<text x="456.10" y="630.60" font-size="10" text-anchor="middle" textLength="22.40" lengthAdjust="spacingAndGlyphs" stroke="#000" stroke-width="0.3" transform="rotate(-90 456.10 630.60)">4148</text>
<circle cx="452.50" cy="601.25" r="5.85" fill="#fff" stroke="#000" stroke-width="3.10"/>
<rect x="445.00" y="661.30" width="15.00" height="15.00" fill="#000"/>
<circle cx="452.50" cy="668.80" r="4.30" fill="#fff"/>
<line x1="600.60" y1="601.00" x2="600.60" y2="668.60" stroke="#000" stroke-width="2" stroke-linecap="butt"/>
<rect x="591.30" y="615.30" width="18.60" height="39.90" fill="#fff" stroke="#000" stroke-width="1.8"/>
<line x1="591.30" y1="645.60" x2="609.90" y2="645.60" stroke="#000" stroke-width="1.9" stroke-linecap="butt"/>
<line x1="591.30" y1="650.00" x2="609.90" y2="650.00" stroke="#000" stroke-width="2.2" stroke-linecap="butt"/>
<text x="604.20" y="630.45" font-size="10" text-anchor="middle" textLength="22.40" lengthAdjust="spacingAndGlyphs" stroke="#000" stroke-width="0.3" transform="rotate(-90 604.20 630.45)">4148</text>
<circle cx="600.60" cy="601.00" r="5.85" fill="#fff" stroke="#000" stroke-width="3.10"/>
<rect x="593.10" y="661.10" width="15.00" height="15.00" fill="#000"/>
<circle cx="600.60" cy="668.60" r="4.30" fill="#fff"/>
<rect x="463.60" y="610.70" width="62.00" height="64.30" fill="#fff" stroke="#000" stroke-width="1.8"/>
<circle cx="494.30" cy="646.6" r="12.6" fill="#fff" stroke="#000" stroke-width="1.5"/>
<line x1="486.50" y1="646.60" x2="502.10" y2="646.60" stroke="#000" stroke-width="3.5" stroke-linecap="butt"/>
<line x1="494.30" y1="638.80" x2="494.30" y2="654.40" stroke="#000" stroke-width="3.5" stroke-linecap="butt"/>
<circle cx="494.60" cy="623.90" r="5.70" fill="#fff" stroke="#000" stroke-width="3.00"/>
<circle cx="471.40" cy="646.60" r="5.70" fill="#fff" stroke="#000" stroke-width="3.00"/>
<circle cx="517.50" cy="646.60" r="5.70" fill="#fff" stroke="#000" stroke-width="3.00"/>
<text x="495.00" y="669.60" font-size="10" text-anchor="middle" textLength="54.00" lengthAdjust="spacingAndGlyphs" stroke="#000" stroke-width="0.3">TRIM-500R</text>
<rect x="528.40" y="610.70" width="62.20" height="64.30" fill="#fff" stroke="#000" stroke-width="1.8"/>
<circle cx="559.30" cy="646.6" r="12.6" fill="#fff" stroke="#000" stroke-width="1.5"/>
<line x1="551.50" y1="646.60" x2="567.10" y2="646.60" stroke="#000" stroke-width="3.5" stroke-linecap="butt"/>
<line x1="559.30" y1="638.80" x2="559.30" y2="654.40" stroke="#000" stroke-width="3.5" stroke-linecap="butt"/>
<circle cx="559.60" cy="623.90" r="5.70" fill="#fff" stroke="#000" stroke-width="3.00"/>
<circle cx="536.60" cy="646.60" r="5.70" fill="#fff" stroke="#000" stroke-width="3.00"/>
<circle cx="582.30" cy="646.60" r="5.70" fill="#fff" stroke="#000" stroke-width="3.00"/>
<text x="559.90" y="669.60" font-size="10" text-anchor="middle" textLength="54.00" lengthAdjust="spacingAndGlyphs" stroke="#000" stroke-width="0.3">TRIM-250K</text>
<text x="476.60" y="694.20" font-size="20.4" text-anchor="middle" textLength="49.50" lengthAdjust="spacingAndGlyphs" stroke="#000" stroke-width="0.9">GAIN</text>
<text x="577.50" y="694.20" font-size="20.4" text-anchor="middle" textLength="49.00" lengthAdjust="spacingAndGlyphs" stroke="#000" stroke-width="0.9">BIAS</text>
<circle cx="351.25" cy="708.00" r="22.10" fill="#fff" stroke="#000" stroke-width="1.6"/>
<rect x="332.40" y="700.50" width="15.00" height="15.00" fill="#000"/>
<circle cx="339.90" cy="708.00" r="4.30" fill="#fff"/>
<circle cx="362.60" cy="708.00" r="5.85" fill="#fff" stroke="#000" stroke-width="3.10"/>
<line x1="337.25" y1="694.00" x2="344.25" y2="694.00" stroke="#000" stroke-width="1.6" stroke-linecap="butt"/>
<line x1="340.75" y1="690.50" x2="340.75" y2="697.50" stroke="#000" stroke-width="1.6" stroke-linecap="butt"/>
<text x="351.75" y="727.50" font-size="14" text-anchor="middle" textLength="12.00" lengthAdjust="spacingAndGlyphs" stroke="#000" stroke-width="0.45">1u</text>
<circle cx="406.75" cy="708.00" r="22.10" fill="#fff" stroke="#000" stroke-width="1.6"/>
<rect x="387.90" y="700.50" width="15.00" height="15.00" fill="#000"/>
<circle cx="395.40" cy="708.00" r="4.30" fill="#fff"/>
<circle cx="418.10" cy="708.00" r="5.85" fill="#fff" stroke="#000" stroke-width="3.10"/>
<line x1="392.75" y1="694.00" x2="399.75" y2="694.00" stroke="#000" stroke-width="1.6" stroke-linecap="butt"/>
<line x1="396.25" y1="690.50" x2="396.25" y2="697.50" stroke="#000" stroke-width="1.6" stroke-linecap="butt"/>
<text x="406.75" y="724.60" font-size="8.6" text-anchor="middle" textLength="9.20" lengthAdjust="spacingAndGlyphs" stroke="#000" stroke-width="0.3">1u</text>
<circle cx="528.40" cy="707.20" r="22.10" fill="#fff" stroke="#000" stroke-width="1.6"/>
<rect x="509.55" y="699.70" width="15.00" height="15.00" fill="#000"/>
<circle cx="517.05" cy="707.20" r="4.30" fill="#fff"/>
<circle cx="539.75" cy="707.20" r="5.85" fill="#fff" stroke="#000" stroke-width="3.10"/>
<line x1="514.30" y1="694.50" x2="521.30" y2="694.50" stroke="#000" stroke-width="1.6" stroke-linecap="butt"/>
<line x1="517.80" y1="691.00" x2="517.80" y2="698.00" stroke="#000" stroke-width="1.6" stroke-linecap="butt"/>
<text x="530.00" y="727.60" font-size="14.4" text-anchor="middle" textLength="11.60" lengthAdjust="spacingAndGlyphs" stroke="#000" stroke-width="0.45">1u</text>
<circle cx="644.25" cy="708.00" r="22.10" fill="#fff" stroke="#000" stroke-width="1.6"/>
<rect x="625.40" y="700.50" width="15.00" height="15.00" fill="#000"/>
<circle cx="632.90" cy="708.00" r="4.30" fill="#fff"/>
<circle cx="655.60" cy="708.00" r="5.85" fill="#fff" stroke="#000" stroke-width="3.10"/>
<line x1="630.25" y1="694.00" x2="637.25" y2="694.00" stroke="#000" stroke-width="1.6" stroke-linecap="butt"/>
<line x1="633.75" y1="690.50" x2="633.75" y2="697.50" stroke="#000" stroke-width="1.6" stroke-linecap="butt"/>
<text x="644.25" y="724.60" font-size="8.6" text-anchor="middle" textLength="15.00" lengthAdjust="spacingAndGlyphs" stroke="#000" stroke-width="0.3">10u</text>
<circle cx="701.25" cy="708.00" r="22.10" fill="#fff" stroke="#000" stroke-width="1.6"/>
<rect x="705.10" y="700.50" width="15.00" height="15.00" fill="#000"/>
<circle cx="712.60" cy="708.00" r="4.30" fill="#fff"/>
<circle cx="689.90" cy="708.00" r="5.85" fill="#fff" stroke="#000" stroke-width="3.10"/>
<line x1="708.25" y1="693.50" x2="715.25" y2="693.50" stroke="#000" stroke-width="1.6" stroke-linecap="butt"/>
<line x1="711.75" y1="690.00" x2="711.75" y2="697.00" stroke="#000" stroke-width="1.6" stroke-linecap="butt"/>
<text x="701.25" y="724.60" font-size="8.6" text-anchor="middle" textLength="15.00" lengthAdjust="spacingAndGlyphs" stroke="#000" stroke-width="0.3">10u</text>
<rect x="297.60" y="751.30" width="181.10" height="192.90" fill="none" stroke="#000" stroke-width="1.7"/>
<rect x="299.4" y="740.3" width="176.20000000000005" height="7.6" fill="#000"/>
<rect x="318.80" y="754.50" width="136.70" height="23.75" fill="#fff" stroke="#000" stroke-width="1.8"/>
<circle cx="330.00" cy="766.75" r="7.5" fill="#fff" stroke="#000" stroke-width="4.0"/>
<text x="330.00" y="787.60" font-size="9" text-anchor="middle" textLength="5.20" lengthAdjust="spacingAndGlyphs" stroke="#000" stroke-width="0.3">1</text>
<circle cx="352.50" cy="766.75" r="7.5" fill="#fff" stroke="#000" stroke-width="4.0"/>
<text x="352.50" y="787.60" font-size="9" text-anchor="middle" textLength="5.20" lengthAdjust="spacingAndGlyphs" stroke="#000" stroke-width="0.3">2</text>
<circle cx="375.50" cy="766.75" r="7.5" fill="#fff" stroke="#000" stroke-width="4.0"/>
<text x="375.50" y="787.60" font-size="9" text-anchor="middle" textLength="5.20" lengthAdjust="spacingAndGlyphs" stroke="#000" stroke-width="0.3">3</text>
<circle cx="398.00" cy="766.75" r="7.5" fill="#fff" stroke="#000" stroke-width="4.0"/>
<text x="398.00" y="787.60" font-size="9" text-anchor="middle" textLength="5.20" lengthAdjust="spacingAndGlyphs" stroke="#000" stroke-width="0.3">4</text>
<circle cx="420.75" cy="766.75" r="7.5" fill="#fff" stroke="#000" stroke-width="4.0"/>
<text x="420.75" y="787.60" font-size="9" text-anchor="middle" textLength="5.20" lengthAdjust="spacingAndGlyphs" stroke="#000" stroke-width="0.3">5</text>
<circle cx="443.75" cy="766.75" r="7.5" fill="#fff" stroke="#000" stroke-width="4.0"/>
<text x="443.75" y="787.60" font-size="9" text-anchor="middle" textLength="5.20" lengthAdjust="spacingAndGlyphs" stroke="#000" stroke-width="0.3">6</text>
<text x="387.90" y="804.30" font-size="10.4" text-anchor="middle" textLength="68.20" lengthAdjust="spacingAndGlyphs" stroke="#000" stroke-width="0.42">BYPASS-SW</text>
<ellipse cx="340" cy="821.75" rx="17.6" ry="15.5" fill="#000"/>
<rect x="326.6" y="813.75" width="26.8" height="16" rx="8" ry="8" fill="#fff"/>
<ellipse cx="388" cy="821.75" rx="17.6" ry="15.5" fill="#000"/>
<rect x="374.6" y="813.75" width="26.8" height="16" rx="8" ry="8" fill="#fff"/>
<ellipse cx="436.25" cy="821.75" rx="17.6" ry="15.5" fill="#000"/>
<rect x="422.85" y="813.75" width="26.8" height="16" rx="8" ry="8" fill="#fff"/>
<ellipse cx="340" cy="864.25" rx="17.6" ry="15.5" fill="#000"/>
<rect x="326.6" y="856.25" width="26.8" height="16" rx="8" ry="8" fill="#fff"/>
<ellipse cx="388" cy="864.25" rx="17.6" ry="15.5" fill="#000"/>
<rect x="374.6" y="856.25" width="26.8" height="16" rx="8" ry="8" fill="#fff"/>
<ellipse cx="436.25" cy="864.25" rx="17.6" ry="15.5" fill="#000"/>
<rect x="422.85" y="856.25" width="26.8" height="16" rx="8" ry="8" fill="#fff"/>
<ellipse cx="340" cy="906.75" rx="17.6" ry="15.5" fill="#000"/>
<rect x="326.6" y="898.75" width="26.8" height="16" rx="8" ry="8" fill="#fff"/>
<ellipse cx="388" cy="906.75" rx="17.6" ry="15.5" fill="#000"/>
<rect x="374.6" y="898.75" width="26.8" height="16" rx="8" ry="8" fill="#fff"/>
<ellipse cx="436.25" cy="906.75" rx="17.6" ry="15.5" fill="#000"/>
<rect x="422.85" y="898.75" width="26.8" height="16" rx="8" ry="8" fill="#fff"/>
<g transform="translate(0 0)" fill="none" stroke="#000" stroke-width="2" stroke-linecap="round" stroke-linejoin="round"><path d="M355.1 924.6 Q359 923.6 364 925 M359.6 924.8 Q358.6 933 358.7 941"/><path d="M362 937 Q370 936.3 379.2 936.6"/><path d="M369.3 942 Q373 932 377.8 923.8 Q377.3 932 377.7 941"/><path d="M382 933.2 Q382 939.6 384.2 939.6 Q386.6 939.2 388 933.2 Q387.6 938.5 389 939.4"/><path d="M398.9 936.6 A3.1 2.8 0 1 0 398.8 937.4 M402.5 924.4 Q399.6 932 398.6 939.8"/><path d="M406.4 933.7 Q405.4 937 405.4 939.6 M407.4 928.9 L407.5 929.1"/><ellipse cx="415" cy="936.7" rx="3.3" ry="3"/></g>
<rect x="571.30" y="751.30" width="188.00" height="192.90" fill="none" stroke="#000" stroke-width="1.7"/>
<rect x="573.8" y="740.3" width="184.80000000000007" height="7.6" fill="#000"/>
<rect x="574.25" y="753.75" width="183.25" height="25.75" fill="#fff" stroke="#000" stroke-width="1.8"/>
<circle cx="586.25" cy="766.75" r="7.5" fill="#fff" stroke="#000" stroke-width="4.0"/>
<text x="586.25" y="790.00" font-size="9" text-anchor="middle" textLength="5.20" lengthAdjust="spacingAndGlyphs" stroke="#000" stroke-width="0.3">7</text>
<circle cx="608.75" cy="766.75" r="7.5" fill="#fff" stroke="#000" stroke-width="4.0"/>
<text x="608.75" y="790.00" font-size="9" text-anchor="middle" textLength="5.20" lengthAdjust="spacingAndGlyphs" stroke="#000" stroke-width="0.3">8</text>
<circle cx="631.25" cy="766.75" r="7.5" fill="#fff" stroke="#000" stroke-width="4.0"/>
<text x="631.25" y="790.00" font-size="9" text-anchor="middle" textLength="5.20" lengthAdjust="spacingAndGlyphs" stroke="#000" stroke-width="0.3">9</text>
<circle cx="654.25" cy="766.75" r="7.5" fill="#fff" stroke="#000" stroke-width="4.0"/>
<text x="654.25" y="790.00" font-size="9" text-anchor="middle" textLength="10.40" lengthAdjust="spacingAndGlyphs" stroke="#000" stroke-width="0.3">10</text>
<circle cx="676.75" cy="766.75" r="7.5" fill="#fff" stroke="#000" stroke-width="4.0"/>
<text x="676.75" y="790.00" font-size="9" text-anchor="middle" textLength="10.40" lengthAdjust="spacingAndGlyphs" stroke="#000" stroke-width="0.3">11</text>
<circle cx="699.50" cy="766.75" r="7.5" fill="#fff" stroke="#000" stroke-width="4.0"/>
<text x="699.50" y="790.00" font-size="9" text-anchor="middle" textLength="10.40" lengthAdjust="spacingAndGlyphs" stroke="#000" stroke-width="0.3">12</text>
<circle cx="722.50" cy="766.75" r="7.5" fill="#fff" stroke="#000" stroke-width="4.0"/>
<text x="722.50" y="790.00" font-size="9" text-anchor="middle" textLength="10.40" lengthAdjust="spacingAndGlyphs" stroke="#000" stroke-width="0.3">13</text>
<circle cx="745.00" cy="766.75" r="7.5" fill="#fff" stroke="#000" stroke-width="4.0"/>
<text x="745.00" y="790.00" font-size="9" text-anchor="middle" textLength="10.40" lengthAdjust="spacingAndGlyphs" stroke="#000" stroke-width="0.3">14</text>
<text x="666.20" y="804.30" font-size="10.4" text-anchor="middle" textLength="58.50" lengthAdjust="spacingAndGlyphs" stroke="#000" stroke-width="0.42">SPEED-SW</text>
<ellipse cx="617.5" cy="821.75" rx="17.6" ry="15.5" fill="#000"/>
<rect x="604.1" y="813.75" width="26.8" height="16" rx="8" ry="8" fill="#fff"/>
<ellipse cx="665.5" cy="821.75" rx="17.6" ry="15.5" fill="#000"/>
<rect x="652.1" y="813.75" width="26.8" height="16" rx="8" ry="8" fill="#fff"/>
<ellipse cx="713.75" cy="821.75" rx="17.6" ry="15.5" fill="#000"/>
<rect x="700.35" y="813.75" width="26.8" height="16" rx="8" ry="8" fill="#fff"/>
<ellipse cx="617.5" cy="864.25" rx="17.6" ry="15.5" fill="#000"/>
<rect x="604.1" y="856.25" width="26.8" height="16" rx="8" ry="8" fill="#fff"/>
<ellipse cx="665.5" cy="864.25" rx="17.6" ry="15.5" fill="#000"/>
<rect x="652.1" y="856.25" width="26.8" height="16" rx="8" ry="8" fill="#fff"/>
<ellipse cx="713.75" cy="864.25" rx="17.6" ry="15.5" fill="#000"/>
<rect x="700.35" y="856.25" width="26.8" height="16" rx="8" ry="8" fill="#fff"/>
<ellipse cx="617.5" cy="906.75" rx="17.6" ry="15.5" fill="#000"/>
<rect x="604.1" y="898.75" width="26.8" height="16" rx="8" ry="8" fill="#fff"/>
<ellipse cx="665.5" cy="906.75" rx="17.6" ry="15.5" fill="#000"/>
<rect x="652.1" y="898.75" width="26.8" height="16" rx="8" ry="8" fill="#fff"/>
<ellipse cx="713.75" cy="906.75" rx="17.6" ry="15.5" fill="#000"/>
<rect x="700.35" y="898.75" width="26.8" height="16" rx="8" ry="8" fill="#fff"/>
<g transform="translate(280.6 0)" fill="none" stroke="#000" stroke-width="2" stroke-linecap="round" stroke-linejoin="round"><path d="M355.1 924.6 Q359 923.6 364 925 M359.6 924.8 Q358.6 933 358.7 941"/><path d="M362 937 Q370 936.3 379.2 936.6"/><path d="M369.3 942 Q373 932 377.8 923.8 Q377.3 932 377.7 941"/><path d="M382 933.2 Q382 939.6 384.2 939.6 Q386.6 939.2 388 933.2 Q387.6 938.5 389 939.4"/><path d="M398.9 936.6 A3.1 2.8 0 1 0 398.8 937.4 M402.5 924.4 Q399.6 932 398.6 939.8"/><path d="M406.4 933.7 Q405.4 937 405.4 939.6 M407.4 928.9 L407.5 929.1"/><ellipse cx="415" cy="936.7" rx="3.3" ry="3"/></g>
</svg>
</body></html>
